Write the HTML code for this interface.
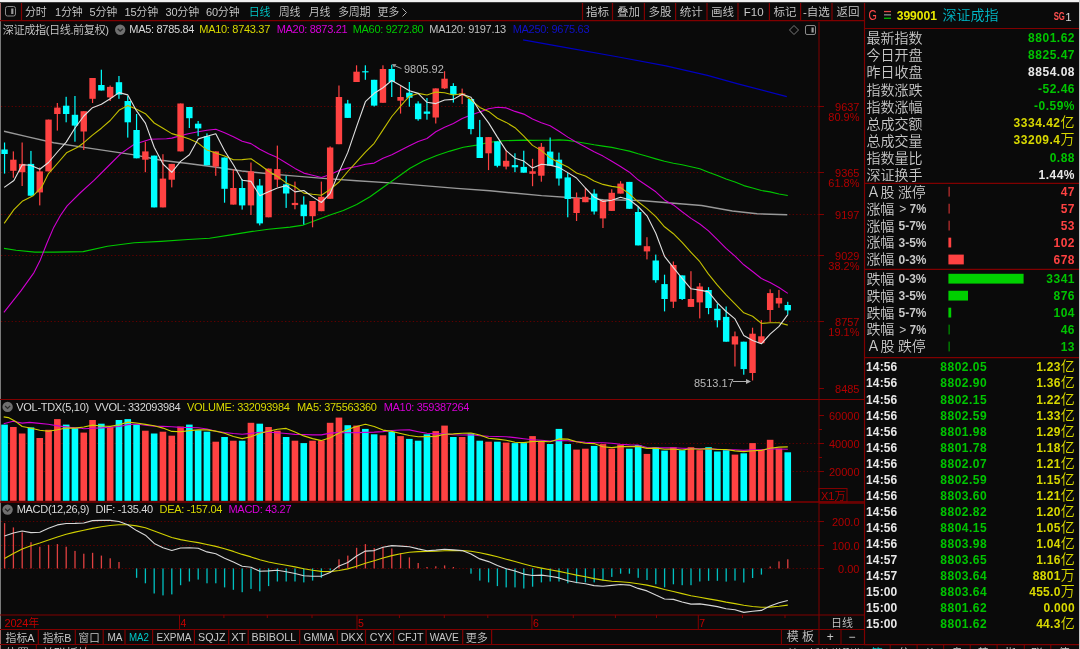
<!DOCTYPE html>
<html><head><meta charset="utf-8"><title>深证成指</title>
<style>
html,body{margin:0;padding:0;background:#0a0a0a;width:1080px;height:649px;overflow:hidden;}
body{position:relative;font-family:"Liberation Sans","Noto Sans CJK SC",sans-serif;}
</style></head><body>
<svg width="1080" height="649" viewBox="0 0 1080 649" style="position:absolute;left:0;top:0">
<rect x="0.00" y="0.00" width="1080.00" height="649.00" fill="#0a0a0a"/>
<rect x="0.00" y="0.00" width="1080.00" height="2.00" fill="#f0f0f0"/>
<rect x="0.00" y="2.00" width="1080.00" height="1.00" fill="#3c3c3c"/>
<rect x="0.00" y="3.00" width="1.00" height="646.00" fill="#7a7a7a"/>
<rect x="0.00" y="3.00" width="1.00" height="18.00" fill="#a06868"/>
<rect x="0.00" y="629.00" width="1.00" height="20.00" fill="#a06868"/>
<line x1="1" y1="106.5" x2="819" y2="106.5" stroke="#600000" stroke-width="1" stroke-dasharray="1.3,2.25"/>
<line x1="1" y1="172.5" x2="819" y2="172.5" stroke="#600000" stroke-width="1" stroke-dasharray="1.3,2.25"/>
<line x1="1" y1="214.5" x2="819" y2="214.5" stroke="#600000" stroke-width="1" stroke-dasharray="1.3,2.25"/>
<line x1="1" y1="255.5" x2="819" y2="255.5" stroke="#600000" stroke-width="1" stroke-dasharray="1.3,2.25"/>
<line x1="1" y1="321.5" x2="819" y2="321.5" stroke="#600000" stroke-width="1" stroke-dasharray="1.3,2.25"/>
<line x1="1" y1="443.5" x2="819" y2="443.5" stroke="#600000" stroke-width="1" stroke-dasharray="1.3,2.25"/>
<line x1="1" y1="471.5" x2="819" y2="471.5" stroke="#600000" stroke-width="1" stroke-dasharray="1.3,2.25"/>
<line x1="1" y1="521.5" x2="819" y2="521.5" stroke="#600000" stroke-width="1" stroke-dasharray="1.3,2.25"/>
<line x1="1" y1="545.5" x2="819" y2="545.5" stroke="#600000" stroke-width="1" stroke-dasharray="1.3,2.25"/>
<line x1="1" y1="568.5" x2="819" y2="568.5" stroke="#600000" stroke-width="1" stroke-dasharray="1.3,2.25"/>
<polyline points="4.0,131.3 26.9,136.6 53.7,142.8 80.6,146.9 107.4,150.9 134.3,154.9 161.1,160.3 188.0,163.5 214.8,167.0 241.7,171.0 268.5,173.7 290.0,175.6 323.3,178.4 356.7,180.7 390.0,182.9 423.3,185.6 456.7,188.4 490.0,190.7 510.8,192.8 541.6,195.6 572.4,197.7 603.3,199.6 640.0,200.5 670.8,203.0 701.6,205.5 732.4,211.0 757.1,213.8 787.3,214.7" fill="none" stroke="#989898" stroke-width="1.4" stroke-opacity="1.0" stroke-linejoin="round"/>
<polyline points="4.0,248.4 16.1,250.2 34.9,252.1 53.7,252.1 83.2,251.6 107.4,246.2 134.3,242.7 161.1,241.4 188.0,239.5 209.5,238.2 230.9,234.9 252.4,231.4 268.5,229.3 290.0,227.1 303.3,225.1 316.7,220.0 330.0,215.1 343.3,210.4 356.7,204.4 370.0,196.7 383.3,187.3 396.7,177.8 410.0,168.2 423.3,161.1 436.7,155.6 450.0,151.1 463.3,147.3 476.7,145.1 490.0,142.2 503.3,140.7 516.7,140.4 523.8,140.1 532.5,140.4 541.4,140.2 550.1,140.2 559.0,139.9 567.8,140.4 576.5,141.7 585.4,143.2 594.1,144.8 603.0,146.1 611.8,147.4 620.5,149.2 629.4,151.1 638.1,153.8 647.0,156.3 655.8,158.9 664.5,161.3 673.4,163.2 682.1,164.7 691.0,166.7 699.8,168.8 708.5,172.2 717.4,175.5 726.1,179.1 735.0,181.9 743.8,185.6 752.6,188.0 761.4,190.5 770.1,191.9 779.0,194.0 787.8,195.5" fill="none" stroke="#00c800" stroke-width="1.1" stroke-opacity="1.0" stroke-linejoin="round"/>
<polyline points="523.1,39.8 559.3,46.3 618.5,57.0 665.9,65.9 707.4,75.3 737.0,83.6 786.8,96.7" fill="none" stroke="#0000c0" stroke-width="1.25" stroke-opacity="1.0" stroke-linejoin="round"/>
<polyline points="3.9,312.4 20.9,290.9 34.0,272.6 40.3,259.9 47.0,243.0 53.7,227.4 60.4,215.5 67.1,205.9 80.6,192.5 94.0,180.4 107.4,167.0 120.8,153.6 134.3,144.2 150.4,139.3 166.5,138.8 171.8,138.1 180.6,135.6 189.4,133.5 198.2,131.8 207.0,130.2 215.8,129.2 224.6,132.7 233.4,136.7 242.2,141.3 251.0,143.6 259.8,149.2 268.6,153.7 277.4,157.6 286.2,163.0 295.0,168.4 303.8,173.1 312.6,175.2 321.4,177.5 330.2,174.5 339.0,170.4 347.8,168.1 356.6,166.5 365.4,164.2 374.2,163.1 383.0,158.3 391.8,154.8 400.6,150.2 409.4,145.7 418.2,141.4 427.0,138.5 435.8,131.8 444.6,127.3 453.4,123.5 462.2,118.5 471.0,114.9 479.8,111.9 488.6,108.8 497.4,107.2 506.2,107.9 515.0,111.4 523.8,114.1 532.5,119.1 541.4,122.8 550.1,125.8 559.0,131.3 567.8,137.1 576.5,142.2 585.4,147.1 594.1,151.8 603.0,156.1 611.8,161.3 620.5,166.5 629.4,172.2 638.1,179.8 647.0,185.7 655.8,191.8 664.5,199.9 673.4,204.9 682.1,211.8 691.0,218.4 699.8,224.0 708.5,230.9 717.4,239.6 726.1,248.4 735.0,256.2 743.8,264.8 752.6,271.5 761.4,278.5 770.1,282.6 779.0,287.5 787.8,293.4" fill="none" stroke="#d000d0" stroke-width="1.1" stroke-opacity="1.0" stroke-linejoin="round"/>
<rect x="3.95" y="142.50" width="1.20" height="31.10" fill="#00ffff"/>
<rect x="1.35" y="149.50" width="6.40" height="4.50" fill="#00ffff"/>
<rect x="12.75" y="151.40" width="1.20" height="26.30" fill="#ff4242"/>
<rect x="10.15" y="159.70" width="6.40" height="11.10" fill="#ff4242"/>
<rect x="21.55" y="142.50" width="1.20" height="43.50" fill="#ff4242"/>
<rect x="18.95" y="163.90" width="6.40" height="8.30" fill="#ff4242"/>
<rect x="30.35" y="150.90" width="1.20" height="44.80" fill="#00ffff"/>
<rect x="27.75" y="163.90" width="6.40" height="31.80" fill="#00ffff"/>
<rect x="39.15" y="167.50" width="1.20" height="37.90" fill="#ff4242"/>
<rect x="36.55" y="171.40" width="6.40" height="21.00" fill="#ff4242"/>
<rect x="47.95" y="119.60" width="1.20" height="51.80" fill="#ff4242"/>
<rect x="45.35" y="119.60" width="6.40" height="51.80" fill="#ff4242"/>
<rect x="56.75" y="103.00" width="1.20" height="27.60" fill="#ff4242"/>
<rect x="54.15" y="107.60" width="6.40" height="6.40" fill="#ff4242"/>
<rect x="65.55" y="96.80" width="1.20" height="25.50" fill="#00ffff"/>
<rect x="62.95" y="105.70" width="6.40" height="8.30" fill="#00ffff"/>
<rect x="74.35" y="96.00" width="1.20" height="45.70" fill="#00ffff"/>
<rect x="71.75" y="114.80" width="6.40" height="10.80" fill="#00ffff"/>
<rect x="83.15" y="111.20" width="1.20" height="38.80" fill="#ff4242"/>
<rect x="80.55" y="111.20" width="6.40" height="20.30" fill="#ff4242"/>
<rect x="91.95" y="78.00" width="1.20" height="25.00" fill="#ff4242"/>
<rect x="89.35" y="78.00" width="6.40" height="20.80" fill="#ff4242"/>
<rect x="100.75" y="69.70" width="1.20" height="20.80" fill="#00ffff"/>
<rect x="98.15" y="85.00" width="6.40" height="5.50" fill="#00ffff"/>
<rect x="109.55" y="85.50" width="1.20" height="15.50" fill="#ff4242"/>
<rect x="106.95" y="86.90" width="6.40" height="10.50" fill="#ff4242"/>
<rect x="118.35" y="76.00" width="1.20" height="22.80" fill="#00ffff"/>
<rect x="115.75" y="82.20" width="6.40" height="12.40" fill="#00ffff"/>
<rect x="127.15" y="96.00" width="1.20" height="41.60" fill="#00ffff"/>
<rect x="124.55" y="101.00" width="6.40" height="21.30" fill="#00ffff"/>
<rect x="135.95" y="114.00" width="1.20" height="44.30" fill="#00ffff"/>
<rect x="133.35" y="130.00" width="6.40" height="28.30" fill="#00ffff"/>
<rect x="144.75" y="141.70" width="1.20" height="30.50" fill="#ff4242"/>
<rect x="142.15" y="151.40" width="6.40" height="8.30" fill="#ff4242"/>
<rect x="153.55" y="155.60" width="1.20" height="51.80" fill="#00ffff"/>
<rect x="150.95" y="155.60" width="6.40" height="51.80" fill="#00ffff"/>
<rect x="162.35" y="154.20" width="1.20" height="53.20" fill="#ff4242"/>
<rect x="159.75" y="178.60" width="6.40" height="28.80" fill="#ff4242"/>
<rect x="171.15" y="163.90" width="1.20" height="23.50" fill="#ff4242"/>
<rect x="168.55" y="163.90" width="6.40" height="15.80" fill="#ff4242"/>
<rect x="179.95" y="103.50" width="1.20" height="47.90" fill="#ff4242"/>
<rect x="177.35" y="103.50" width="6.40" height="47.90" fill="#ff4242"/>
<rect x="188.75" y="107.00" width="1.20" height="21.00" fill="#00ffff"/>
<rect x="186.15" y="107.00" width="6.40" height="11.20" fill="#00ffff"/>
<rect x="197.55" y="121.00" width="1.20" height="15.20" fill="#00ffff"/>
<rect x="194.95" y="123.70" width="6.40" height="4.70" fill="#00ffff"/>
<rect x="206.35" y="133.40" width="1.20" height="31.90" fill="#00ffff"/>
<rect x="203.75" y="136.20" width="6.40" height="29.10" fill="#00ffff"/>
<rect x="215.15" y="151.40" width="1.20" height="24.40" fill="#ff4242"/>
<rect x="212.55" y="151.40" width="6.40" height="15.20" fill="#ff4242"/>
<rect x="223.95" y="157.50" width="1.20" height="45.20" fill="#00ffff"/>
<rect x="221.35" y="157.50" width="6.40" height="31.30" fill="#00ffff"/>
<rect x="232.75" y="169.40" width="1.20" height="35.20" fill="#ff4242"/>
<rect x="230.15" y="188.00" width="6.40" height="16.60" fill="#ff4242"/>
<rect x="241.55" y="179.00" width="1.20" height="30.60" fill="#00ffff"/>
<rect x="238.95" y="188.00" width="6.40" height="17.40" fill="#00ffff"/>
<rect x="250.35" y="162.50" width="1.20" height="52.50" fill="#ff4242"/>
<rect x="247.75" y="171.40" width="6.40" height="34.00" fill="#ff4242"/>
<rect x="259.15" y="179.00" width="1.20" height="46.40" fill="#00ffff"/>
<rect x="256.55" y="185.50" width="6.40" height="37.90" fill="#00ffff"/>
<rect x="267.95" y="168.60" width="1.20" height="48.70" fill="#ff4242"/>
<rect x="265.35" y="168.60" width="6.40" height="48.70" fill="#ff4242"/>
<rect x="276.75" y="145.60" width="1.20" height="41.40" fill="#ff4242"/>
<rect x="274.15" y="169.10" width="6.40" height="10.50" fill="#ff4242"/>
<rect x="285.55" y="176.00" width="1.20" height="31.90" fill="#00ffff"/>
<rect x="282.95" y="184.30" width="6.40" height="9.20" fill="#00ffff"/>
<rect x="294.35" y="181.60" width="1.20" height="27.70" fill="#ff4242"/>
<rect x="291.75" y="202.90" width="6.40" height="2.20" fill="#ff4242"/>
<rect x="303.15" y="196.30" width="1.20" height="28.20" fill="#00ffff"/>
<rect x="300.55" y="204.60" width="6.40" height="11.60" fill="#00ffff"/>
<rect x="311.95" y="201.00" width="1.20" height="26.30" fill="#ff4242"/>
<rect x="309.35" y="201.00" width="6.40" height="15.20" fill="#ff4242"/>
<rect x="320.75" y="181.60" width="1.20" height="29.60" fill="#ff4242"/>
<rect x="318.15" y="196.80" width="6.40" height="14.40" fill="#ff4242"/>
<rect x="329.55" y="146.40" width="1.20" height="52.40" fill="#ff4242"/>
<rect x="326.95" y="147.50" width="6.40" height="51.30" fill="#ff4242"/>
<rect x="338.35" y="85.50" width="1.20" height="58.70" fill="#ff4242"/>
<rect x="335.75" y="97.00" width="6.40" height="47.20" fill="#ff4242"/>
<rect x="347.15" y="99.90" width="1.20" height="18.00" fill="#00ffff"/>
<rect x="344.55" y="103.50" width="6.40" height="14.40" fill="#00ffff"/>
<rect x="355.95" y="65.30" width="1.20" height="16.70" fill="#ff4242"/>
<rect x="353.35" y="71.70" width="6.40" height="10.30" fill="#ff4242"/>
<rect x="364.75" y="65.30" width="1.20" height="14.50" fill="#00ffff"/>
<rect x="362.15" y="71.20" width="6.40" height="1.20" fill="#00ffff"/>
<rect x="373.55" y="79.80" width="1.20" height="26.70" fill="#00ffff"/>
<rect x="370.95" y="79.80" width="6.40" height="25.80" fill="#00ffff"/>
<rect x="382.35" y="65.30" width="1.20" height="37.50" fill="#ff4242"/>
<rect x="379.75" y="69.00" width="6.40" height="33.80" fill="#ff4242"/>
<rect x="391.15" y="64.70" width="1.20" height="32.30" fill="#00ffff"/>
<rect x="388.55" y="69.00" width="6.40" height="13.00" fill="#00ffff"/>
<rect x="399.95" y="86.20" width="1.20" height="27.40" fill="#ff4242"/>
<rect x="397.35" y="97.00" width="6.40" height="3.70" fill="#ff4242"/>
<rect x="408.75" y="82.00" width="1.20" height="24.70" fill="#00ffff"/>
<rect x="406.15" y="92.70" width="6.40" height="5.00" fill="#00ffff"/>
<rect x="417.55" y="101.30" width="1.20" height="19.40" fill="#00ffff"/>
<rect x="414.95" y="103.50" width="6.40" height="15.70" fill="#00ffff"/>
<rect x="426.35" y="98.00" width="1.20" height="21.70" fill="#00ffff"/>
<rect x="423.75" y="111.50" width="6.40" height="2.30" fill="#00ffff"/>
<rect x="435.15" y="88.40" width="1.20" height="35.10" fill="#ff4242"/>
<rect x="432.55" y="88.40" width="6.40" height="29.10" fill="#ff4242"/>
<rect x="443.95" y="71.20" width="1.20" height="17.80" fill="#ff4242"/>
<rect x="441.35" y="78.70" width="6.40" height="9.70" fill="#ff4242"/>
<rect x="452.75" y="83.20" width="1.20" height="19.40" fill="#00ffff"/>
<rect x="450.15" y="86.00" width="6.40" height="8.70" fill="#00ffff"/>
<rect x="461.55" y="88.60" width="1.20" height="15.50" fill="#ff4242"/>
<rect x="458.95" y="93.40" width="6.40" height="2.10" fill="#ff4242"/>
<rect x="470.35" y="99.00" width="1.20" height="35.30" fill="#00ffff"/>
<rect x="467.75" y="99.00" width="6.40" height="30.10" fill="#00ffff"/>
<rect x="479.15" y="119.90" width="1.20" height="38.10" fill="#00ffff"/>
<rect x="476.55" y="137.10" width="6.40" height="20.90" fill="#00ffff"/>
<rect x="487.95" y="137.10" width="1.20" height="33.00" fill="#ff4242"/>
<rect x="485.35" y="137.10" width="6.40" height="16.20" fill="#ff4242"/>
<rect x="496.75" y="141.40" width="1.20" height="25.90" fill="#00ffff"/>
<rect x="494.15" y="141.40" width="6.40" height="24.40" fill="#00ffff"/>
<rect x="505.55" y="150.00" width="1.20" height="19.40" fill="#ff4242"/>
<rect x="502.95" y="160.80" width="6.40" height="5.80" fill="#ff4242"/>
<rect x="514.35" y="153.30" width="1.20" height="18.90" fill="#00ffff"/>
<rect x="511.75" y="165.10" width="6.40" height="2.20" fill="#00ffff"/>
<rect x="523.15" y="150.70" width="1.20" height="22.00" fill="#00ffff"/>
<rect x="520.55" y="166.90" width="6.40" height="5.80" fill="#00ffff"/>
<rect x="531.95" y="158.80" width="1.20" height="27.40" fill="#ff4242"/>
<rect x="529.35" y="171.30" width="6.40" height="2.50" fill="#ff4242"/>
<rect x="540.75" y="143.00" width="1.20" height="38.70" fill="#ff4242"/>
<rect x="538.15" y="146.80" width="6.40" height="28.90" fill="#ff4242"/>
<rect x="549.55" y="137.50" width="1.20" height="28.10" fill="#00ffff"/>
<rect x="546.95" y="151.60" width="6.40" height="14.00" fill="#00ffff"/>
<rect x="558.35" y="152.60" width="1.20" height="33.00" fill="#00ffff"/>
<rect x="555.75" y="159.70" width="6.40" height="18.80" fill="#00ffff"/>
<rect x="567.15" y="173.10" width="1.20" height="44.20" fill="#00ffff"/>
<rect x="564.55" y="177.40" width="6.40" height="21.60" fill="#00ffff"/>
<rect x="575.95" y="192.50" width="1.20" height="28.50" fill="#ff4242"/>
<rect x="573.35" y="197.90" width="6.40" height="15.10" fill="#ff4242"/>
<rect x="584.75" y="188.20" width="1.20" height="14.00" fill="#ff4242"/>
<rect x="582.15" y="196.80" width="6.40" height="5.40" fill="#ff4242"/>
<rect x="593.55" y="189.30" width="1.20" height="25.20" fill="#00ffff"/>
<rect x="590.95" y="193.60" width="6.40" height="17.90" fill="#00ffff"/>
<rect x="602.35" y="200.00" width="1.20" height="28.00" fill="#ff4242"/>
<rect x="599.75" y="200.00" width="6.40" height="18.40" fill="#ff4242"/>
<rect x="611.15" y="189.30" width="1.20" height="21.60" fill="#ff4242"/>
<rect x="608.55" y="192.80" width="6.40" height="18.10" fill="#ff4242"/>
<rect x="619.95" y="181.20" width="1.20" height="12.40" fill="#ff4242"/>
<rect x="617.35" y="183.60" width="6.40" height="10.00" fill="#ff4242"/>
<rect x="628.75" y="181.90" width="1.20" height="26.90" fill="#00ffff"/>
<rect x="626.15" y="181.90" width="6.40" height="26.90" fill="#00ffff"/>
<rect x="637.55" y="206.60" width="1.20" height="38.80" fill="#00ffff"/>
<rect x="634.95" y="212.00" width="6.40" height="33.40" fill="#00ffff"/>
<rect x="646.35" y="237.20" width="1.20" height="22.20" fill="#ff4242"/>
<rect x="643.75" y="246.20" width="6.40" height="5.20" fill="#ff4242"/>
<rect x="655.15" y="254.60" width="1.20" height="28.10" fill="#00ffff"/>
<rect x="652.55" y="260.50" width="6.40" height="19.70" fill="#00ffff"/>
<rect x="663.95" y="274.70" width="1.20" height="36.70" fill="#00ffff"/>
<rect x="661.35" y="284.10" width="6.40" height="14.90" fill="#00ffff"/>
<rect x="672.75" y="261.50" width="1.20" height="46.50" fill="#ff4242"/>
<rect x="670.15" y="265.00" width="6.40" height="36.70" fill="#ff4242"/>
<rect x="681.55" y="275.40" width="1.20" height="24.60" fill="#00ffff"/>
<rect x="678.95" y="275.40" width="6.40" height="23.60" fill="#00ffff"/>
<rect x="690.35" y="271.20" width="1.20" height="35.70" fill="#ff4242"/>
<rect x="687.75" y="299.00" width="6.40" height="7.90" fill="#ff4242"/>
<rect x="699.15" y="283.00" width="1.20" height="35.40" fill="#ff4242"/>
<rect x="696.55" y="286.50" width="6.40" height="15.90" fill="#ff4242"/>
<rect x="707.95" y="287.20" width="1.20" height="27.00" fill="#00ffff"/>
<rect x="705.35" y="290.00" width="6.40" height="18.00" fill="#00ffff"/>
<rect x="716.75" y="303.80" width="1.20" height="23.60" fill="#00ffff"/>
<rect x="714.15" y="308.70" width="6.40" height="11.50" fill="#00ffff"/>
<rect x="725.55" y="306.50" width="1.20" height="35.20" fill="#00ffff"/>
<rect x="722.95" y="316.90" width="6.40" height="24.80" fill="#00ffff"/>
<rect x="734.35" y="331.50" width="1.20" height="35.00" fill="#ff4242"/>
<rect x="731.75" y="336.30" width="6.40" height="8.20" fill="#ff4242"/>
<rect x="743.15" y="341.70" width="1.20" height="33.00" fill="#00ffff"/>
<rect x="740.55" y="341.70" width="6.40" height="27.40" fill="#00ffff"/>
<rect x="751.95" y="327.70" width="1.20" height="52.80" fill="#ff4242"/>
<rect x="749.35" y="333.70" width="6.40" height="39.30" fill="#ff4242"/>
<rect x="760.75" y="320.10" width="1.20" height="23.10" fill="#ff4242"/>
<rect x="758.15" y="336.30" width="6.40" height="6.90" fill="#ff4242"/>
<rect x="769.55" y="289.30" width="1.20" height="33.00" fill="#ff4242"/>
<rect x="766.95" y="293.10" width="6.40" height="16.90" fill="#ff4242"/>
<rect x="778.35" y="289.90" width="1.20" height="17.90" fill="#ff4242"/>
<rect x="775.75" y="297.90" width="6.40" height="5.60" fill="#ff4242"/>
<rect x="787.15" y="301.80" width="1.20" height="12.90" fill="#00ffff"/>
<rect x="784.55" y="305.00" width="6.40" height="5.40" fill="#00ffff"/>
<polyline points="4.2,223.4 13.9,209.6 22.2,201.3 33.2,195.7 41.5,187.4 48.5,173.6 58.2,162.5 66.5,152.8 77.6,147.3 83.8,142.7 92.5,135.1 101.4,128.2 110.2,120.5 119.0,110.3 127.8,105.4 136.6,109.3 145.4,113.7 154.2,123.0 163.0,128.3 171.8,133.6 180.6,136.1 189.4,138.9 198.2,143.1 207.0,150.1 215.8,153.0 224.6,156.1 233.4,159.8 242.2,159.6 251.0,158.8 259.8,164.8 268.6,171.3 277.4,176.4 286.2,182.9 295.0,186.7 303.8,193.1 312.6,194.3 321.4,195.2 330.2,189.4 339.0,182.0 347.8,171.5 356.6,161.8 365.4,152.1 374.2,143.3 383.0,129.9 391.8,116.5 400.6,106.1 409.4,96.2 418.2,93.4 427.0,95.0 435.8,92.1 444.6,92.8 453.4,95.0 462.2,93.8 471.0,99.8 479.8,107.4 488.6,111.4 497.4,118.2 506.2,122.4 515.0,127.7 523.8,136.2 532.5,145.4 541.4,150.6 550.1,157.8 559.0,162.8 567.8,166.9 576.5,173.0 585.4,176.1 594.1,181.1 603.0,184.4 611.8,186.4 620.5,187.6 629.4,193.8 638.1,201.8 647.0,208.6 655.8,216.7 664.5,226.8 673.4,233.7 682.1,242.4 691.0,252.3 699.8,261.7 708.5,274.1 717.4,285.2 726.1,294.9 735.0,303.9 743.8,312.8 752.6,316.2 761.4,323.4 770.1,322.8 779.0,322.7 787.8,325.1" fill="none" stroke="#c4c000" stroke-width="1.1" stroke-opacity="1.0" stroke-linejoin="round"/>
<polyline points="4.2,187.4 13.9,180.5 22.2,164.7 30.5,165.3 39.8,169.3 48.5,162.5 57.4,152.0 66.2,142.1 75.0,128.0 83.8,116.0 92.5,107.7 101.4,104.3 110.2,98.8 119.0,92.6 127.8,94.9 136.6,110.9 145.4,123.1 154.2,147.2 163.0,164.0 171.8,172.3 180.6,161.4 189.4,154.7 198.2,138.9 207.0,136.3 215.8,133.8 224.6,150.8 233.4,164.8 242.2,180.2 251.0,181.4 259.8,195.8 268.6,191.8 277.4,188.0 286.2,185.6 295.0,191.9 303.8,190.5 312.6,196.9 321.4,202.5 330.2,193.3 339.0,172.1 347.8,152.4 356.6,126.6 365.4,101.7 374.2,93.3 383.0,87.7 391.8,80.5 400.6,85.6 409.4,90.7 418.2,93.4 427.0,102.3 435.8,103.6 444.6,100.0 453.4,99.4 462.2,94.2 471.0,97.3 479.8,111.2 488.6,122.9 497.4,137.1 506.2,150.6 515.0,158.2 523.8,161.1 532.5,168.0 541.4,164.2 550.1,165.1 559.0,167.4 567.8,172.6 576.5,178.0 585.4,188.0 594.1,197.1 603.0,201.4 611.8,200.2 620.5,197.3 629.4,199.7 638.1,206.5 647.0,215.8 655.8,233.2 664.5,256.3 673.4,267.6 682.1,278.3 691.0,288.8 699.8,290.1 708.5,291.9 717.4,302.9 726.1,311.5 735.0,318.9 743.8,335.5 752.6,340.6 761.4,343.8 770.1,334.1 779.0,326.4 787.8,314.7" fill="none" stroke="#e0e0e0" stroke-width="1.1" stroke-opacity="1.0" stroke-linejoin="round"/>
<text x="404" y="73.2" fill="#b8b8b8" font-size="11" font-family='"Liberation Sans", "Noto Sans CJK SC", sans-serif'>9805.92</text>
<polyline points="401.5,68.6 394.5,65.6" fill="none" stroke="#a0a0a0" stroke-width="1"/>
<polygon points="392,64 396.5,64.2 394,67.5" fill="#a0a0a0"/>
<text x="694" y="386.5" fill="#b8b8b8" font-size="11" font-family='"Liberation Sans", "Noto Sans CJK SC", sans-serif'>8513.17</text>
<line x1="733" y1="381.5" x2="749" y2="381.5" stroke="#b0b0b0" stroke-width="1"/>
<polygon points="751,381.5 746,379 746,384" fill="#b0b0b0"/>
<rect x="1.25" y="424.60" width="6.60" height="76.20" fill="#00ffff"/>
<rect x="10.05" y="427.00" width="6.60" height="73.80" fill="#ff4242"/>
<rect x="18.85" y="433.50" width="6.60" height="67.30" fill="#ff4242"/>
<rect x="27.65" y="427.40" width="6.60" height="73.40" fill="#00ffff"/>
<rect x="36.45" y="438.00" width="6.60" height="62.80" fill="#ff4242"/>
<rect x="45.25" y="429.80" width="6.60" height="71.00" fill="#ff4242"/>
<rect x="54.05" y="419.10" width="6.60" height="81.70" fill="#ff4242"/>
<rect x="62.85" y="424.60" width="6.60" height="76.20" fill="#00ffff"/>
<rect x="71.65" y="428.00" width="6.60" height="72.80" fill="#00ffff"/>
<rect x="80.45" y="432.60" width="6.60" height="68.20" fill="#ff4242"/>
<rect x="89.25" y="420.00" width="6.60" height="80.80" fill="#ff4242"/>
<rect x="98.05" y="423.70" width="6.60" height="77.10" fill="#00ffff"/>
<rect x="106.85" y="426.90" width="6.60" height="73.90" fill="#ff4242"/>
<rect x="115.65" y="420.00" width="6.60" height="80.80" fill="#00ffff"/>
<rect x="124.45" y="419.10" width="6.60" height="81.70" fill="#00ffff"/>
<rect x="133.25" y="424.30" width="6.60" height="76.50" fill="#00ffff"/>
<rect x="142.05" y="430.70" width="6.60" height="70.10" fill="#ff4242"/>
<rect x="150.85" y="433.50" width="6.60" height="67.30" fill="#00ffff"/>
<rect x="159.65" y="431.70" width="6.60" height="69.10" fill="#ff4242"/>
<rect x="168.45" y="435.70" width="6.60" height="65.10" fill="#ff4242"/>
<rect x="177.25" y="426.50" width="6.60" height="74.30" fill="#ff4242"/>
<rect x="186.05" y="424.60" width="6.60" height="76.20" fill="#00ffff"/>
<rect x="194.85" y="430.20" width="6.60" height="70.60" fill="#00ffff"/>
<rect x="203.65" y="431.70" width="6.60" height="69.10" fill="#00ffff"/>
<rect x="212.45" y="441.70" width="6.60" height="59.10" fill="#ff4242"/>
<rect x="221.25" y="437.00" width="6.60" height="63.80" fill="#00ffff"/>
<rect x="230.05" y="440.70" width="6.60" height="60.10" fill="#ff4242"/>
<rect x="238.85" y="440.70" width="6.60" height="60.10" fill="#00ffff"/>
<rect x="247.65" y="422.80" width="6.60" height="78.00" fill="#ff4242"/>
<rect x="256.45" y="423.70" width="6.60" height="77.10" fill="#00ffff"/>
<rect x="265.25" y="427.00" width="6.60" height="73.80" fill="#ff4242"/>
<rect x="274.05" y="430.70" width="6.60" height="70.10" fill="#ff4242"/>
<rect x="282.85" y="437.00" width="6.60" height="63.80" fill="#00ffff"/>
<rect x="291.65" y="440.70" width="6.60" height="60.10" fill="#ff4242"/>
<rect x="300.45" y="443.10" width="6.60" height="57.70" fill="#00ffff"/>
<rect x="309.25" y="440.70" width="6.60" height="60.10" fill="#ff4242"/>
<rect x="318.05" y="440.40" width="6.60" height="60.40" fill="#ff4242"/>
<rect x="326.85" y="422.80" width="6.60" height="78.00" fill="#ff4242"/>
<rect x="335.65" y="417.60" width="6.60" height="83.20" fill="#ff4242"/>
<rect x="344.45" y="425.20" width="6.60" height="75.60" fill="#00ffff"/>
<rect x="353.25" y="425.60" width="6.60" height="75.20" fill="#ff4242"/>
<rect x="362.05" y="428.90" width="6.60" height="71.90" fill="#00ffff"/>
<rect x="370.85" y="434.30" width="6.60" height="66.50" fill="#00ffff"/>
<rect x="379.65" y="435.30" width="6.60" height="65.50" fill="#ff4242"/>
<rect x="388.45" y="432.00" width="6.60" height="68.80" fill="#00ffff"/>
<rect x="397.25" y="436.10" width="6.60" height="64.70" fill="#ff4242"/>
<rect x="406.05" y="438.90" width="6.60" height="61.90" fill="#00ffff"/>
<rect x="414.85" y="440.70" width="6.60" height="60.10" fill="#00ffff"/>
<rect x="423.65" y="434.30" width="6.60" height="66.50" fill="#00ffff"/>
<rect x="432.45" y="431.10" width="6.60" height="69.70" fill="#ff4242"/>
<rect x="441.25" y="425.60" width="6.60" height="75.20" fill="#ff4242"/>
<rect x="450.05" y="437.00" width="6.60" height="63.80" fill="#00ffff"/>
<rect x="458.85" y="437.00" width="6.60" height="63.80" fill="#ff4242"/>
<rect x="467.65" y="433.50" width="6.60" height="67.30" fill="#00ffff"/>
<rect x="476.45" y="440.70" width="6.60" height="60.10" fill="#00ffff"/>
<rect x="485.25" y="441.70" width="6.60" height="59.10" fill="#ff4242"/>
<rect x="494.05" y="441.70" width="6.60" height="59.10" fill="#00ffff"/>
<rect x="502.85" y="442.60" width="6.60" height="58.20" fill="#ff4242"/>
<rect x="511.65" y="443.10" width="6.60" height="57.70" fill="#00ffff"/>
<rect x="520.45" y="443.10" width="6.60" height="57.70" fill="#00ffff"/>
<rect x="529.25" y="436.10" width="6.60" height="64.70" fill="#ff4242"/>
<rect x="538.05" y="441.30" width="6.60" height="59.50" fill="#ff4242"/>
<rect x="546.85" y="444.00" width="6.60" height="56.80" fill="#00ffff"/>
<rect x="555.65" y="428.90" width="6.60" height="71.90" fill="#00ffff"/>
<rect x="564.45" y="444.00" width="6.60" height="56.80" fill="#00ffff"/>
<rect x="573.25" y="449.60" width="6.60" height="51.20" fill="#ff4242"/>
<rect x="582.05" y="448.70" width="6.60" height="52.10" fill="#ff4242"/>
<rect x="590.85" y="445.90" width="6.60" height="54.90" fill="#00ffff"/>
<rect x="599.65" y="444.10" width="6.60" height="56.70" fill="#ff4242"/>
<rect x="608.45" y="448.70" width="6.60" height="52.10" fill="#ff4242"/>
<rect x="617.25" y="444.60" width="6.60" height="56.20" fill="#ff4242"/>
<rect x="626.05" y="448.70" width="6.60" height="52.10" fill="#00ffff"/>
<rect x="634.85" y="445.00" width="6.60" height="55.80" fill="#00ffff"/>
<rect x="643.65" y="453.90" width="6.60" height="46.90" fill="#ff4242"/>
<rect x="652.45" y="447.20" width="6.60" height="53.60" fill="#00ffff"/>
<rect x="661.25" y="450.60" width="6.60" height="50.20" fill="#00ffff"/>
<rect x="670.05" y="447.20" width="6.60" height="53.60" fill="#ff4242"/>
<rect x="678.85" y="450.20" width="6.60" height="50.60" fill="#00ffff"/>
<rect x="687.65" y="447.20" width="6.60" height="53.60" fill="#ff4242"/>
<rect x="696.45" y="450.20" width="6.60" height="50.60" fill="#ff4242"/>
<rect x="705.25" y="447.20" width="6.60" height="53.60" fill="#00ffff"/>
<rect x="714.05" y="451.50" width="6.60" height="49.30" fill="#00ffff"/>
<rect x="722.85" y="450.20" width="6.60" height="50.60" fill="#00ffff"/>
<rect x="731.65" y="454.60" width="6.60" height="46.20" fill="#ff4242"/>
<rect x="740.45" y="453.30" width="6.60" height="47.50" fill="#00ffff"/>
<rect x="749.25" y="443.10" width="6.60" height="57.70" fill="#ff4242"/>
<rect x="758.05" y="449.60" width="6.60" height="51.20" fill="#ff4242"/>
<rect x="766.85" y="439.80" width="6.60" height="61.00" fill="#ff4242"/>
<rect x="775.65" y="448.60" width="6.60" height="52.20" fill="#ff4242"/>
<rect x="784.45" y="452.30" width="6.60" height="48.50" fill="#00ffff"/>
<polyline points="3.7,423.7 13.0,421.3 22.2,423.1 29.6,422.4 37.0,423.1 48.1,424.3 59.3,426.1 70.4,427.4 81.5,428.3 83.8,428.7 92.5,428.2 101.4,427.9 110.2,427.2 119.0,426.5 127.8,424.6 136.6,424.0 145.4,425.2 154.2,426.1 163.0,426.4 171.8,426.8 180.6,427.4 189.4,427.5 198.2,427.8 207.0,429.0 215.8,431.3 224.6,432.5 233.4,433.5 242.2,434.2 251.0,433.4 259.8,432.2 268.6,432.2 277.4,432.8 286.2,433.5 295.0,434.4 303.8,434.5 312.6,434.9 321.4,434.9 330.2,433.1 339.0,432.6 347.8,432.7 356.6,432.6 365.4,432.4 374.2,432.1 383.0,431.6 391.8,430.5 400.6,430.0 409.4,429.9 418.2,431.7 427.0,433.3 435.8,433.9 444.6,433.9 453.4,434.7 462.2,435.0 471.0,434.8 479.8,435.7 488.6,436.2 497.4,436.5 506.2,436.7 515.0,437.6 523.8,438.8 532.5,439.8 541.4,440.3 550.1,441.0 559.0,440.5 567.8,440.8 576.5,441.6 585.4,442.3 594.1,442.7 603.0,442.8 611.8,443.3 620.5,444.2 629.4,444.9 638.1,445.0 647.0,447.5 655.8,447.8 664.5,447.9 673.4,447.8 682.1,448.2 691.0,448.5 699.8,448.7 708.5,448.9 717.4,449.2 726.1,449.7 735.0,449.8 743.8,450.4 752.6,449.7 761.4,449.9 770.1,448.9 779.0,449.0 787.8,449.2" fill="none" stroke="#d000d0" stroke-width="1.1" stroke-opacity="1.0" stroke-linejoin="round"/>
<polyline points="3.7,416.9 8.3,417.6 14.8,420.9 22.2,426.5 31.5,428.3 39.8,430.3 48.5,431.3 57.4,429.8 66.2,428.0 75.0,428.1 83.8,427.0 92.5,425.1 101.4,426.0 110.2,426.4 119.0,424.8 127.8,422.1 136.6,423.0 145.4,424.4 154.2,425.7 163.0,428.1 171.8,431.4 180.6,431.8 189.4,430.6 198.2,429.9 207.0,429.9 215.8,431.1 224.6,433.2 233.4,436.5 242.2,438.6 251.0,436.8 259.8,433.2 268.6,431.2 277.4,429.2 286.2,428.4 295.0,432.0 303.8,435.9 312.6,438.6 321.4,440.6 330.2,437.7 339.0,433.1 347.8,429.5 356.6,426.5 365.4,424.2 374.2,426.5 383.0,430.1 391.8,431.4 400.6,433.5 409.4,435.5 418.2,436.8 427.0,436.6 435.8,436.4 444.6,434.3 453.4,433.9 462.2,433.2 471.0,433.0 479.8,435.0 488.6,438.2 497.4,439.1 506.2,440.2 515.0,442.2 523.8,442.6 532.5,441.5 541.4,441.4 550.1,441.7 559.0,438.9 567.8,439.1 576.5,441.8 585.4,443.2 594.1,443.6 603.0,446.7 611.8,447.6 620.5,446.6 629.4,446.6 638.1,446.4 647.0,448.4 655.8,448.1 664.5,449.3 673.4,449.0 682.1,450.0 691.0,448.7 699.8,449.3 708.5,448.6 717.4,449.5 726.1,449.5 735.0,450.9 743.8,451.6 752.6,450.7 761.4,450.4 770.1,448.3 779.0,447.1 787.8,446.9" fill="none" stroke="#d0d000" stroke-width="1.1" stroke-opacity="1.0" stroke-linejoin="round"/>
<rect x="3.95" y="523.10" width="1.30" height="45.30" fill="#e04040"/>
<rect x="12.75" y="527.40" width="1.30" height="41.00" fill="#e04040"/>
<rect x="21.55" y="532.40" width="1.30" height="36.00" fill="#e04040"/>
<rect x="30.35" y="542.20" width="1.30" height="26.20" fill="#e04040"/>
<rect x="39.15" y="546.70" width="1.30" height="21.70" fill="#e04040"/>
<rect x="47.95" y="544.80" width="1.30" height="23.60" fill="#e04040"/>
<rect x="56.75" y="544.10" width="1.30" height="24.30" fill="#e04040"/>
<rect x="65.55" y="546.70" width="1.30" height="21.70" fill="#e04040"/>
<rect x="74.35" y="550.90" width="1.30" height="17.50" fill="#e04040"/>
<rect x="83.15" y="553.70" width="1.30" height="14.70" fill="#e04040"/>
<rect x="91.95" y="552.80" width="1.30" height="15.60" fill="#e04040"/>
<rect x="100.75" y="555.60" width="1.30" height="12.80" fill="#e04040"/>
<rect x="109.55" y="558.30" width="1.30" height="10.10" fill="#e04040"/>
<rect x="118.35" y="562.00" width="1.30" height="6.40" fill="#e04040"/>
<rect x="135.95" y="568.40" width="1.30" height="9.40" fill="#00c0c0"/>
<rect x="144.75" y="568.40" width="1.30" height="14.90" fill="#00c0c0"/>
<rect x="153.55" y="568.40" width="1.30" height="25.10" fill="#00c0c0"/>
<rect x="162.35" y="568.40" width="1.30" height="27.00" fill="#00c0c0"/>
<rect x="171.15" y="568.40" width="1.30" height="26.00" fill="#00c0c0"/>
<rect x="179.95" y="568.40" width="1.30" height="16.80" fill="#00c0c0"/>
<rect x="188.75" y="568.40" width="1.30" height="13.10" fill="#00c0c0"/>
<rect x="197.55" y="568.40" width="1.30" height="11.20" fill="#00c0c0"/>
<rect x="206.35" y="568.40" width="1.30" height="14.90" fill="#00c0c0"/>
<rect x="215.15" y="568.40" width="1.30" height="14.90" fill="#00c0c0"/>
<rect x="223.95" y="568.40" width="1.30" height="19.00" fill="#00c0c0"/>
<rect x="232.75" y="568.40" width="1.30" height="21.40" fill="#00c0c0"/>
<rect x="241.55" y="568.40" width="1.30" height="23.80" fill="#00c0c0"/>
<rect x="250.35" y="568.40" width="1.30" height="20.50" fill="#00c0c0"/>
<rect x="259.15" y="568.40" width="1.30" height="22.90" fill="#00c0c0"/>
<rect x="267.95" y="568.40" width="1.30" height="17.70" fill="#00c0c0"/>
<rect x="276.75" y="568.40" width="1.30" height="13.10" fill="#00c0c0"/>
<rect x="285.55" y="568.40" width="1.30" height="13.10" fill="#00c0c0"/>
<rect x="294.35" y="568.40" width="1.30" height="13.10" fill="#00c0c0"/>
<rect x="303.15" y="568.40" width="1.30" height="14.00" fill="#00c0c0"/>
<rect x="311.95" y="568.40" width="1.30" height="12.20" fill="#00c0c0"/>
<rect x="320.75" y="568.40" width="1.30" height="9.40" fill="#00c0c0"/>
<rect x="329.55" y="568.40" width="1.30" height="2.00" fill="#00c0c0"/>
<rect x="338.35" y="559.30" width="1.30" height="9.10" fill="#e04040"/>
<rect x="347.15" y="555.60" width="1.30" height="12.80" fill="#e04040"/>
<rect x="355.95" y="547.80" width="1.30" height="20.60" fill="#e04040"/>
<rect x="364.75" y="544.10" width="1.30" height="24.30" fill="#e04040"/>
<rect x="373.55" y="548.10" width="1.30" height="20.30" fill="#e04040"/>
<rect x="382.35" y="546.80" width="1.30" height="21.60" fill="#e04040"/>
<rect x="391.15" y="548.50" width="1.30" height="19.90" fill="#e04040"/>
<rect x="399.95" y="553.30" width="1.30" height="15.10" fill="#e04040"/>
<rect x="408.75" y="557.40" width="1.30" height="11.00" fill="#e04040"/>
<rect x="417.55" y="563.00" width="1.30" height="5.40" fill="#e04040"/>
<rect x="426.35" y="567.00" width="1.30" height="1.40" fill="#e04040"/>
<rect x="435.15" y="566.30" width="1.30" height="2.10" fill="#e04040"/>
<rect x="443.95" y="565.40" width="1.30" height="3.00" fill="#e04040"/>
<rect x="452.75" y="567.00" width="1.30" height="1.40" fill="#e04040"/>
<rect x="470.35" y="568.40" width="1.30" height="5.30" fill="#00c0c0"/>
<rect x="479.15" y="568.40" width="1.30" height="12.20" fill="#00c0c0"/>
<rect x="487.95" y="568.40" width="1.30" height="14.00" fill="#00c0c0"/>
<rect x="496.75" y="568.40" width="1.30" height="17.70" fill="#00c0c0"/>
<rect x="505.55" y="568.40" width="1.30" height="19.00" fill="#00c0c0"/>
<rect x="514.35" y="568.40" width="1.30" height="19.00" fill="#00c0c0"/>
<rect x="523.15" y="568.40" width="1.30" height="20.10" fill="#00c0c0"/>
<rect x="531.95" y="568.40" width="1.30" height="18.30" fill="#00c0c0"/>
<rect x="540.75" y="568.40" width="1.30" height="14.00" fill="#00c0c0"/>
<rect x="549.55" y="568.40" width="1.30" height="13.10" fill="#00c0c0"/>
<rect x="558.35" y="568.40" width="1.30" height="13.10" fill="#00c0c0"/>
<rect x="567.15" y="568.40" width="1.30" height="14.90" fill="#00c0c0"/>
<rect x="575.95" y="568.40" width="1.30" height="14.90" fill="#00c0c0"/>
<rect x="584.75" y="568.40" width="1.30" height="14.00" fill="#00c0c0"/>
<rect x="593.55" y="568.40" width="1.30" height="14.00" fill="#00c0c0"/>
<rect x="602.35" y="568.40" width="1.30" height="12.20" fill="#00c0c0"/>
<rect x="611.15" y="568.40" width="1.30" height="8.50" fill="#00c0c0"/>
<rect x="619.95" y="568.40" width="1.30" height="5.30" fill="#00c0c0"/>
<rect x="628.75" y="568.40" width="1.30" height="5.30" fill="#00c0c0"/>
<rect x="637.55" y="568.40" width="1.30" height="9.40" fill="#00c0c0"/>
<rect x="646.35" y="568.40" width="1.30" height="11.60" fill="#00c0c0"/>
<rect x="655.15" y="568.40" width="1.30" height="15.90" fill="#00c0c0"/>
<rect x="663.95" y="568.40" width="1.30" height="19.00" fill="#00c0c0"/>
<rect x="672.75" y="568.40" width="1.30" height="15.90" fill="#00c0c0"/>
<rect x="681.55" y="568.40" width="1.30" height="16.80" fill="#00c0c0"/>
<rect x="690.35" y="568.40" width="1.30" height="16.80" fill="#00c0c0"/>
<rect x="699.15" y="568.40" width="1.30" height="13.10" fill="#00c0c0"/>
<rect x="707.95" y="568.40" width="1.30" height="12.40" fill="#00c0c0"/>
<rect x="716.75" y="568.40" width="1.30" height="12.40" fill="#00c0c0"/>
<rect x="725.55" y="568.40" width="1.30" height="13.20" fill="#00c0c0"/>
<rect x="734.35" y="568.40" width="1.30" height="12.20" fill="#00c0c0"/>
<rect x="743.15" y="568.40" width="1.30" height="14.10" fill="#00c0c0"/>
<rect x="751.95" y="568.40" width="1.30" height="9.60" fill="#00c0c0"/>
<rect x="760.75" y="568.40" width="1.30" height="6.20" fill="#00c0c0"/>
<rect x="769.55" y="566.50" width="1.30" height="1.90" fill="#e04040"/>
<rect x="778.35" y="561.40" width="1.30" height="7.00" fill="#e04040"/>
<rect x="787.15" y="559.30" width="1.30" height="9.10" fill="#e04040"/>
<polyline points="4.5,558.6 13.4,553.5 22.2,549.0 31.0,545.7 39.8,543.0 48.5,540.1 57.4,537.0 66.2,534.3 75.0,532.1 83.8,530.3 92.5,528.4 101.4,526.8 110.2,525.5 119.0,524.7 127.8,524.7 136.6,525.9 145.4,527.7 154.2,530.9 163.0,534.2 171.8,537.5 180.6,539.6 189.4,541.2 198.2,542.6 207.0,544.5 215.8,546.4 224.6,548.7 233.4,551.4 242.2,554.4 251.0,556.9 259.8,559.8 268.6,562.0 277.4,563.7 286.2,565.3 295.0,566.9 303.8,568.7 312.6,570.2 321.4,571.4 330.2,571.6 339.0,570.5 347.8,568.9 356.6,566.3 365.4,563.3 374.2,560.7 383.0,558.0 391.8,555.6 400.6,553.7 409.4,552.3 418.2,551.6 427.0,551.4 435.8,551.2 444.6,550.8 453.4,550.6 462.2,550.6 471.0,551.3 479.8,552.8 488.6,554.6 497.4,556.8 506.2,559.2 515.0,561.5 523.8,564.0 532.5,566.3 541.4,568.1 550.1,569.7 559.0,571.4 567.8,573.2 576.5,575.1 585.4,576.8 594.1,578.6 603.0,580.1 611.8,581.2 620.5,581.8 629.4,582.5 638.1,583.7 647.0,585.1 655.8,587.1 664.5,589.5 673.4,591.5 682.1,593.6 691.0,595.7 699.8,597.3 708.5,598.9 717.4,600.4 726.1,602.1 735.0,603.6 743.8,605.3 752.6,606.5 761.4,607.3 770.1,607.1 779.0,606.2 787.8,605.1" fill="none" stroke="#d0d000" stroke-width="1.1" stroke-opacity="1.0" stroke-linejoin="round"/>
<polyline points="4.5,536.0 13.4,533.0 22.2,531.0 31.0,532.6 39.8,532.2 48.5,528.3 57.4,524.9 66.2,523.5 75.0,523.4 83.8,523.0 92.5,520.6 101.4,520.4 110.2,520.4 119.0,521.5 127.8,524.7 136.6,530.6 145.4,535.2 154.2,543.4 163.0,547.7 171.8,550.5 180.6,548.0 189.4,547.8 198.2,548.2 207.0,551.9 215.8,553.8 224.6,558.2 233.4,562.1 242.2,566.3 251.0,567.2 259.8,571.3 268.6,570.9 277.4,570.2 286.2,571.8 295.0,573.5 303.8,575.7 312.6,576.3 321.4,576.1 330.2,572.6 339.0,565.9 347.8,562.5 356.6,556.0 365.4,551.1 374.2,550.6 383.0,547.2 391.8,545.6 400.6,546.1 409.4,546.8 418.2,548.9 427.0,550.7 435.8,550.1 444.6,549.3 453.4,549.9 462.2,550.6 471.0,553.9 479.8,558.9 488.6,561.6 497.4,565.6 506.2,568.7 515.0,571.0 523.8,574.1 532.5,575.5 541.4,575.1 550.1,576.3 559.0,577.9 567.8,580.7 576.5,582.5 585.4,583.8 594.1,585.6 603.0,586.2 611.8,585.4 620.5,584.5 629.4,585.1 638.1,588.4 647.0,590.9 655.8,595.1 664.5,599.0 673.4,599.4 682.1,602.0 691.0,604.1 699.8,603.9 708.5,605.1 717.4,606.6 726.1,608.7 735.0,609.7 743.8,612.4 752.6,611.3 761.4,610.4 770.1,606.1 779.0,602.7 787.8,600.5" fill="none" stroke="#d8d8d8" stroke-width="1.1" stroke-opacity="1.0" stroke-linejoin="round"/>
<line x1="0" y1="20.6" x2="864" y2="20.6" stroke="#800000" stroke-width="1.3"/>
<line x1="819" y1="22" x2="819" y2="615" stroke="#800000" stroke-width="1"/>
<line x1="0" y1="399.5" x2="864" y2="399.5" stroke="#800000" stroke-width="1.2"/>
<line x1="0" y1="502" x2="864" y2="502" stroke="#800000" stroke-width="1.5"/>
<line x1="819" y1="503.2" x2="864" y2="503.2" stroke="#800000" stroke-width="1"/>
<line x1="0" y1="615" x2="864" y2="615" stroke="#800000" stroke-width="1.2"/>
<line x1="0" y1="629.5" x2="864" y2="629.5" stroke="#800000" stroke-width="1.2"/>
<line x1="0" y1="644.5" x2="864" y2="644.5" stroke="#800000" stroke-width="1.2"/>
<line x1="864.5" y1="3" x2="864.5" y2="645" stroke="#800000" stroke-width="1.2"/>
<line x1="819" y1="106.5" x2="824" y2="106.5" stroke="#800000" stroke-width="1"/>
<text x="859.5" y="110.5" fill="#b00000" font-size="11" text-anchor="end" font-family='"Liberation Sans", "Noto Sans CJK SC", sans-serif'>9637</text>
<text x="859.5" y="120.5" fill="#b00000" font-size="11" text-anchor="end" font-family='"Liberation Sans", "Noto Sans CJK SC", sans-serif'>80.9%</text>
<line x1="819" y1="172.5" x2="824" y2="172.5" stroke="#800000" stroke-width="1"/>
<text x="859.5" y="176.5" fill="#b00000" font-size="11" text-anchor="end" font-family='"Liberation Sans", "Noto Sans CJK SC", sans-serif'>9365</text>
<text x="859.5" y="186.5" fill="#b00000" font-size="11" text-anchor="end" font-family='"Liberation Sans", "Noto Sans CJK SC", sans-serif'>61.8%</text>
<line x1="819" y1="214.5" x2="824" y2="214.5" stroke="#800000" stroke-width="1"/>
<text x="859.5" y="218.5" fill="#b00000" font-size="11" text-anchor="end" font-family='"Liberation Sans", "Noto Sans CJK SC", sans-serif'>9197</text>
<line x1="819" y1="255.5" x2="824" y2="255.5" stroke="#800000" stroke-width="1"/>
<text x="859.5" y="259.5" fill="#b00000" font-size="11" text-anchor="end" font-family='"Liberation Sans", "Noto Sans CJK SC", sans-serif'>9029</text>
<text x="859.5" y="269.5" fill="#b00000" font-size="11" text-anchor="end" font-family='"Liberation Sans", "Noto Sans CJK SC", sans-serif'>38.2%</text>
<line x1="819" y1="321.5" x2="824" y2="321.5" stroke="#800000" stroke-width="1"/>
<text x="859.5" y="325.5" fill="#b00000" font-size="11" text-anchor="end" font-family='"Liberation Sans", "Noto Sans CJK SC", sans-serif'>8757</text>
<text x="859.5" y="335.5" fill="#b00000" font-size="11" text-anchor="end" font-family='"Liberation Sans", "Noto Sans CJK SC", sans-serif'>19.1%</text>
<line x1="819" y1="388.5" x2="824" y2="388.5" stroke="#800000" stroke-width="1"/>
<text x="859.5" y="392.5" fill="#b00000" font-size="11" text-anchor="end" font-family='"Liberation Sans", "Noto Sans CJK SC", sans-serif'>8485</text>
<line x1="819" y1="415.5" x2="824" y2="415.5" stroke="#800000" stroke-width="1"/>
<text x="859.5" y="419.5" fill="#b00000" font-size="11" text-anchor="end" font-family='"Liberation Sans", "Noto Sans CJK SC", sans-serif'>60000</text>
<line x1="819" y1="443.5" x2="824" y2="443.5" stroke="#800000" stroke-width="1"/>
<text x="859.5" y="447.5" fill="#b00000" font-size="11" text-anchor="end" font-family='"Liberation Sans", "Noto Sans CJK SC", sans-serif'>40000</text>
<line x1="819" y1="471.5" x2="824" y2="471.5" stroke="#800000" stroke-width="1"/>
<text x="859.5" y="475.5" fill="#b00000" font-size="11" text-anchor="end" font-family='"Liberation Sans", "Noto Sans CJK SC", sans-serif'>20000</text>
<line x1="819" y1="429.5" x2="822" y2="429.5" stroke="#800000" stroke-width="1"/>
<line x1="819" y1="457.5" x2="822" y2="457.5" stroke="#800000" stroke-width="1"/>
<rect x="819" y="488.5" width="28" height="13.5" fill="none" stroke="#800000" stroke-width="1"/>
<text x="821" y="500" fill="#b00000" font-size="11" font-weight="350" font-family='"Liberation Sans", "Noto Sans CJK SC", sans-serif '>X1万</text>
<line x1="819" y1="521.5" x2="824" y2="521.5" stroke="#800000" stroke-width="1"/>
<text x="859.5" y="525.5" fill="#b00000" font-size="11" text-anchor="end" font-family='"Liberation Sans", "Noto Sans CJK SC", sans-serif'>200.0</text>
<line x1="819" y1="545.5" x2="824" y2="545.5" stroke="#800000" stroke-width="1"/>
<text x="859.5" y="549.5" fill="#b00000" font-size="11" text-anchor="end" font-family='"Liberation Sans", "Noto Sans CJK SC", sans-serif'>100.0</text>
<line x1="819" y1="568.5" x2="824" y2="568.5" stroke="#800000" stroke-width="1"/>
<text x="859.5" y="572.5" fill="#b00000" font-size="11" text-anchor="end" font-family='"Liberation Sans", "Noto Sans CJK SC", sans-serif'>0.00</text>
<line x1="223.9" y1="615" x2="223.9" y2="618" stroke="#800000" stroke-width="1"/>
<line x1="267.3" y1="615" x2="267.3" y2="618" stroke="#800000" stroke-width="1"/>
<line x1="312.0" y1="615" x2="312.0" y2="618" stroke="#800000" stroke-width="1"/>
<line x1="399.4" y1="615" x2="399.4" y2="618" stroke="#800000" stroke-width="1"/>
<line x1="444.3" y1="615" x2="444.3" y2="618" stroke="#800000" stroke-width="1"/>
<line x1="487.8" y1="615" x2="487.8" y2="618" stroke="#800000" stroke-width="1"/>
<line x1="573.3" y1="615" x2="573.3" y2="618" stroke="#800000" stroke-width="1"/>
<line x1="615.4" y1="615" x2="615.4" y2="618" stroke="#800000" stroke-width="1"/>
<line x1="656.5" y1="615" x2="656.5" y2="618" stroke="#800000" stroke-width="1"/>
<line x1="742.5" y1="615" x2="742.5" y2="618" stroke="#800000" stroke-width="1"/>
<line x1="785.0" y1="615" x2="785.0" y2="618" stroke="#800000" stroke-width="1"/>
<line x1="179.5" y1="615" x2="179.5" y2="629" stroke="#800000" stroke-width="1"/>
<text x="180.5" y="626.5" fill="#c80000" font-size="10.5" font-family='"Liberation Sans", "Noto Sans CJK SC", sans-serif'>4</text>
<line x1="357.0" y1="615" x2="357.0" y2="629" stroke="#800000" stroke-width="1"/>
<text x="358.0" y="626.5" fill="#c80000" font-size="10.5" font-family='"Liberation Sans", "Noto Sans CJK SC", sans-serif'>5</text>
<line x1="531.9" y1="615" x2="531.9" y2="629" stroke="#800000" stroke-width="1"/>
<text x="532.9" y="626.5" fill="#c80000" font-size="10.5" font-family='"Liberation Sans", "Noto Sans CJK SC", sans-serif'>6</text>
<line x1="698.3" y1="615" x2="698.3" y2="629" stroke="#800000" stroke-width="1"/>
<text x="699.3" y="626.5" fill="#c80000" font-size="10.5" font-family='"Liberation Sans", "Noto Sans CJK SC", sans-serif'>7</text>
<text x="4.5" y="627" fill="#c80000" font-size="11" font-weight="350" letter-spacing="-0.2" font-family='"Liberation Sans", "Noto Sans CJK SC", sans-serif '>2024年</text>
<line x1="819" y1="615" x2="819" y2="645" stroke="#800000" stroke-width="1"/>
<text x="842" y="626.5" fill="#c8c8c8" font-size="11" text-anchor="middle" font-weight="350" font-family='"Liberation Sans", "Noto Sans CJK SC", sans-serif '>日线</text>
<rect x="5.5" y="6.5" width="10" height="9.5" rx="2" ry="2" fill="none" stroke="#8a8a8a" stroke-width="1"/>
<rect x="11.20" y="8.50" width="2.20" height="5.50" fill="#9a9a9a"/>
<line x1="21.5" y1="3" x2="21.5" y2="21" stroke="#800000" stroke-width="1.2"/>
<text x="25" y="15.8" fill="#c8c8c8" font-size="11" font-weight="350" letter-spacing="-0.2" font-family='"Liberation Sans", "Noto Sans CJK SC", sans-serif '>分时</text>
<text x="55" y="15.8" fill="#c8c8c8" font-size="11" font-weight="350" letter-spacing="-0.2" font-family='"Liberation Sans", "Noto Sans CJK SC", sans-serif '>1分钟</text>
<text x="89.5" y="15.8" fill="#c8c8c8" font-size="11" font-weight="350" letter-spacing="-0.2" font-family='"Liberation Sans", "Noto Sans CJK SC", sans-serif '>5分钟</text>
<text x="124.5" y="15.8" fill="#c8c8c8" font-size="11" font-weight="350" letter-spacing="-0.2" font-family='"Liberation Sans", "Noto Sans CJK SC", sans-serif '>15分钟</text>
<text x="165.5" y="15.8" fill="#c8c8c8" font-size="11" font-weight="350" letter-spacing="-0.2" font-family='"Liberation Sans", "Noto Sans CJK SC", sans-serif '>30分钟</text>
<text x="206" y="15.8" fill="#c8c8c8" font-size="11" font-weight="350" letter-spacing="-0.2" font-family='"Liberation Sans", "Noto Sans CJK SC", sans-serif '>60分钟</text>
<text x="248.8" y="15.8" fill="#00c8c8" font-size="11" font-weight="350" letter-spacing="-0.2" font-family='"Liberation Sans", "Noto Sans CJK SC", sans-serif '>日线</text>
<text x="278.8" y="15.8" fill="#c8c8c8" font-size="11" font-weight="350" letter-spacing="-0.2" font-family='"Liberation Sans", "Noto Sans CJK SC", sans-serif '>周线</text>
<text x="308.8" y="15.8" fill="#c8c8c8" font-size="11" font-weight="350" letter-spacing="-0.2" font-family='"Liberation Sans", "Noto Sans CJK SC", sans-serif '>月线</text>
<text x="338" y="15.8" fill="#c8c8c8" font-size="11" font-weight="350" letter-spacing="-0.2" font-family='"Liberation Sans", "Noto Sans CJK SC", sans-serif '>多周期</text>
<text x="377.5" y="15.8" fill="#c8c8c8" font-size="11" font-weight="350" letter-spacing="-0.2" font-family='"Liberation Sans", "Noto Sans CJK SC", sans-serif '>更多</text>
<polyline points="402.5,8.5 406.5,12.5 402.5,16.5" fill="none" stroke="#b0b0b0" stroke-width="1"/>
<line x1="582.5" y1="3" x2="582.5" y2="21" stroke="#800000" stroke-width="1.2"/>
<text x="597.5" y="16.0" fill="#c8c8c8" font-size="11.5" text-anchor="middle" font-weight="350" font-family='"Liberation Sans", "Noto Sans CJK SC", sans-serif '>指标</text>
<line x1="612.5" y1="3" x2="612.5" y2="21" stroke="#800000" stroke-width="1.2"/>
<text x="628.45" y="16.0" fill="#c8c8c8" font-size="11.5" text-anchor="middle" font-weight="350" font-family='"Liberation Sans", "Noto Sans CJK SC", sans-serif '>叠加</text>
<line x1="644.4" y1="3" x2="644.4" y2="21" stroke="#800000" stroke-width="1.2"/>
<text x="660.0" y="16.0" fill="#c8c8c8" font-size="11.5" text-anchor="middle" font-weight="350" font-family='"Liberation Sans", "Noto Sans CJK SC", sans-serif '>多股</text>
<line x1="675.6" y1="3" x2="675.6" y2="21" stroke="#800000" stroke-width="1.2"/>
<text x="691.3" y="16.0" fill="#c8c8c8" font-size="11.5" text-anchor="middle" font-weight="350" font-family='"Liberation Sans", "Noto Sans CJK SC", sans-serif '>统计</text>
<line x1="707" y1="3" x2="707" y2="21" stroke="#800000" stroke-width="1.2"/>
<text x="722.5" y="16.0" fill="#c8c8c8" font-size="11.5" text-anchor="middle" font-weight="350" font-family='"Liberation Sans", "Noto Sans CJK SC", sans-serif '>画线</text>
<line x1="738" y1="3" x2="738" y2="21" stroke="#800000" stroke-width="1.2"/>
<text x="753.7" y="16.0" fill="#c8c8c8" font-size="11.5" text-anchor="middle" font-weight="350" font-family='"Liberation Sans", "Noto Sans CJK SC", sans-serif '>F10</text>
<line x1="769.4" y1="3" x2="769.4" y2="21" stroke="#800000" stroke-width="1.2"/>
<text x="785.0" y="16.0" fill="#c8c8c8" font-size="11.5" text-anchor="middle" font-weight="350" font-family='"Liberation Sans", "Noto Sans CJK SC", sans-serif '>标记</text>
<line x1="800.6" y1="3" x2="800.6" y2="21" stroke="#800000" stroke-width="1.2"/>
<text x="816.3" y="16.0" fill="#c8c8c8" font-size="11.5" text-anchor="middle" font-weight="350" font-family='"Liberation Sans", "Noto Sans CJK SC", sans-serif '>-自选</text>
<line x1="832" y1="3" x2="832" y2="21" stroke="#800000" stroke-width="1.2"/>
<text x="848.0" y="16.0" fill="#c8c8c8" font-size="11.5" text-anchor="middle" font-weight="350" font-family='"Liberation Sans", "Noto Sans CJK SC", sans-serif '>返回</text>
<text x="2.7" y="33.6" fill="#c8c8c8" font-size="11.2" font-weight="350" letter-spacing="-0.45" font-family='"Liberation Sans", "Noto Sans CJK SC", sans-serif '>深证成指(日线.前复权)</text>
<circle cx="120.2" cy="29.7" r="5.2" fill="#707070"/>
<polyline points="117.7,28.8 120.2,31.2 122.8,28.7" fill="none" stroke="#2a2a2a" stroke-width="1.3"/>
<text x="129.3" y="33.2" fill="#d8d8d8" font-size="11" letter-spacing="-0.3" font-family='"Liberation Sans", "Noto Sans CJK SC", sans-serif'>MA5: 8785.84</text>
<text x="199.3" y="33.2" fill="#d8d800" font-size="11" letter-spacing="-0.3" font-family='"Liberation Sans", "Noto Sans CJK SC", sans-serif'>MA10: 8743.37</text>
<text x="276.7" y="33.2" fill="#d800d8" font-size="11" letter-spacing="-0.3" font-family='"Liberation Sans", "Noto Sans CJK SC", sans-serif'>MA20: 8873.21</text>
<text x="352.7" y="33.2" fill="#00c800" font-size="11" letter-spacing="-0.3" font-family='"Liberation Sans", "Noto Sans CJK SC", sans-serif'>MA60: 9272.80</text>
<text x="429.3" y="33.2" fill="#c0c0c0" font-size="11" letter-spacing="-0.3" font-family='"Liberation Sans", "Noto Sans CJK SC", sans-serif'>MA120: 9197.13</text>
<text x="512.7" y="33.2" fill="#1010c8" font-size="11" letter-spacing="-0.3" font-family='"Liberation Sans", "Noto Sans CJK SC", sans-serif'>MA250: 9675.63</text>
<polygon points="794,25.5 798.5,30 794,34.5 789.5,30" fill="none" stroke="#7a7a7a" stroke-width="1"/>
<rect x="805.5" y="25.5" width="10" height="9" rx="1.5" fill="none" stroke="#8a8a8a" stroke-width="1"/>
<rect x="811.50" y="27.50" width="2.20" height="5.00" fill="#9a9a9a"/>
<circle cx="7.6" cy="406.9" r="5.2" fill="#707070"/>
<polyline points="5.1,406.0 7.6,408.4 10.2,405.9" fill="none" stroke="#2a2a2a" stroke-width="1.3"/>
<text x="16.3" y="410.8" fill="#d8d8d8" font-size="11" letter-spacing="-0.3" font-family='"Liberation Sans", "Noto Sans CJK SC", sans-serif'>VOL-TDX(5,10)</text>
<text x="94.4" y="410.8" fill="#d8d8d8" font-size="11" letter-spacing="-0.3" font-family='"Liberation Sans", "Noto Sans CJK SC", sans-serif'>VVOL: 332093984</text>
<text x="187" y="410.8" fill="#d8d800" font-size="11" letter-spacing="-0.3" font-family='"Liberation Sans", "Noto Sans CJK SC", sans-serif'>VOLUME: 332093984</text>
<text x="297" y="410.8" fill="#d8d800" font-size="11" letter-spacing="-0.3" font-family='"Liberation Sans", "Noto Sans CJK SC", sans-serif'>MA5: 375563360</text>
<text x="383.7" y="410.8" fill="#d800d8" font-size="11" letter-spacing="-0.3" font-family='"Liberation Sans", "Noto Sans CJK SC", sans-serif'>MA10: 359387264</text>
<circle cx="7.6" cy="509.6" r="5.2" fill="#707070"/>
<polyline points="5.1,508.7 7.6,511.1 10.2,508.6" fill="none" stroke="#2a2a2a" stroke-width="1.3"/>
<text x="16.7" y="513.4" fill="#d8d8d8" font-size="11" letter-spacing="-0.3" font-family='"Liberation Sans", "Noto Sans CJK SC", sans-serif'>MACD(12,26,9)</text>
<text x="95.4" y="513.4" fill="#d8d8d8" font-size="11" letter-spacing="-0.3" font-family='"Liberation Sans", "Noto Sans CJK SC", sans-serif'>DIF: -135.40</text>
<text x="159.6" y="513.4" fill="#d8d800" font-size="11" letter-spacing="-0.3" font-family='"Liberation Sans", "Noto Sans CJK SC", sans-serif'>DEA: -157.04</text>
<text x="228.5" y="513.4" fill="#d800d8" font-size="11" letter-spacing="-0.3" font-family='"Liberation Sans", "Noto Sans CJK SC", sans-serif'>MACD: 43.27</text>
<line x1="38.3" y1="629.5" x2="38.3" y2="644.5" stroke="#800000" stroke-width="1.2"/>
<text x="5.5" y="641.6" fill="#c8c8c8" font-size="11" font-weight="350" font-family='"Liberation Sans", "Noto Sans CJK SC", sans-serif ' textLength="29.1" lengthAdjust="spacingAndGlyphs">指标A</text>
<line x1="75.3" y1="629.5" x2="75.3" y2="644.5" stroke="#800000" stroke-width="1.2"/>
<text x="42.800000000000004" y="641.6" fill="#c8c8c8" font-size="11" font-weight="350" font-family='"Liberation Sans", "Noto Sans CJK SC", sans-serif ' textLength="28.6" lengthAdjust="spacingAndGlyphs">指标B</text>
<line x1="103.2" y1="629.5" x2="103.2" y2="644.5" stroke="#800000" stroke-width="1.2"/>
<text x="78.60000000000001" y="641.6" fill="#c8c8c8" font-size="11" font-weight="350" font-family='"Liberation Sans", "Noto Sans CJK SC", sans-serif ' textLength="21.1" lengthAdjust="spacingAndGlyphs">窗口</text>
<line x1="125" y1="629.5" x2="125" y2="644.5" stroke="#800000" stroke-width="1.2"/>
<text x="107.4" y="640.9" fill="#c8c8c8" font-size="11" font-family='"Liberation Sans", "Noto Sans CJK SC", sans-serif' textLength="15.1" lengthAdjust="spacingAndGlyphs">MA</text>
<line x1="152.6" y1="629.5" x2="152.6" y2="644.5" stroke="#800000" stroke-width="1.2"/>
<text x="128.9" y="640.9" fill="#00c8c8" font-size="11" font-family='"Liberation Sans", "Noto Sans CJK SC", sans-serif' textLength="20.0" lengthAdjust="spacingAndGlyphs">MA2</text>
<line x1="194.4" y1="629.5" x2="194.4" y2="644.5" stroke="#800000" stroke-width="1.2"/>
<text x="156.5" y="640.9" fill="#c8c8c8" font-size="11" font-family='"Liberation Sans", "Noto Sans CJK SC", sans-serif' textLength="35.0" lengthAdjust="spacingAndGlyphs">EXPMA</text>
<line x1="228.7" y1="629.5" x2="228.7" y2="644.5" stroke="#800000" stroke-width="1.2"/>
<text x="198.1" y="640.9" fill="#c8c8c8" font-size="11" font-family='"Liberation Sans", "Noto Sans CJK SC", sans-serif' textLength="27.4" lengthAdjust="spacingAndGlyphs">SQJZ</text>
<line x1="248.2" y1="629.5" x2="248.2" y2="644.5" stroke="#800000" stroke-width="1.2"/>
<text x="231.2" y="640.9" fill="#c8c8c8" font-size="11" font-family='"Liberation Sans", "Noto Sans CJK SC", sans-serif' textLength="14.7" lengthAdjust="spacingAndGlyphs">XT</text>
<line x1="299.7" y1="629.5" x2="299.7" y2="644.5" stroke="#800000" stroke-width="1.2"/>
<text x="251.5" y="640.9" fill="#c8c8c8" font-size="11" font-family='"Liberation Sans", "Noto Sans CJK SC", sans-serif' textLength="44.6" lengthAdjust="spacingAndGlyphs">BBIBOLL</text>
<line x1="337.3" y1="629.5" x2="337.3" y2="644.5" stroke="#800000" stroke-width="1.2"/>
<text x="303.5" y="640.9" fill="#c8c8c8" font-size="11" font-family='"Liberation Sans", "Noto Sans CJK SC", sans-serif' textLength="30.8" lengthAdjust="spacingAndGlyphs">GMMA</text>
<line x1="365.5" y1="629.5" x2="365.5" y2="644.5" stroke="#800000" stroke-width="1.2"/>
<text x="340.7" y="640.9" fill="#c8c8c8" font-size="11" font-family='"Liberation Sans", "Noto Sans CJK SC", sans-serif' textLength="22.5" lengthAdjust="spacingAndGlyphs">DKX</text>
<line x1="393.7" y1="629.5" x2="393.7" y2="644.5" stroke="#800000" stroke-width="1.2"/>
<text x="369.8" y="640.9" fill="#c8c8c8" font-size="11" font-family='"Liberation Sans", "Noto Sans CJK SC", sans-serif' textLength="21.9" lengthAdjust="spacingAndGlyphs">CYX</text>
<line x1="426.1" y1="629.5" x2="426.1" y2="644.5" stroke="#800000" stroke-width="1.2"/>
<text x="397.4" y="640.9" fill="#c8c8c8" font-size="11" font-family='"Liberation Sans", "Noto Sans CJK SC", sans-serif' textLength="26.1" lengthAdjust="spacingAndGlyphs">CFJT</text>
<line x1="462.7" y1="629.5" x2="462.7" y2="644.5" stroke="#800000" stroke-width="1.2"/>
<text x="429.8" y="640.9" fill="#c8c8c8" font-size="11" font-family='"Liberation Sans", "Noto Sans CJK SC", sans-serif' textLength="29.0" lengthAdjust="spacingAndGlyphs">WAVE</text>
<line x1="491.6" y1="629.5" x2="491.6" y2="644.5" stroke="#800000" stroke-width="1.2"/>
<text x="465.7" y="641.6" fill="#c8c8c8" font-size="11" font-weight="350" font-family='"Liberation Sans", "Noto Sans CJK SC", sans-serif ' textLength="22.2" lengthAdjust="spacingAndGlyphs">更多</text>
<line x1="781.4" y1="629.5" x2="781.4" y2="644.5" stroke="#800000" stroke-width="1"/>
<text x="800.4" y="641.3" fill="#c8c8c8" font-size="12" text-anchor="middle" font-weight="350" font-family='"Liberation Sans", "Noto Sans CJK SC", sans-serif '>模 板</text>
<line x1="841" y1="629.5" x2="841" y2="644.5" stroke="#800000" stroke-width="1"/>
<text x="830.2" y="641.3" fill="#c8c8c8" font-size="12" text-anchor="middle" font-family='"Liberation Sans", "Noto Sans CJK SC", sans-serif'>+</text>
<text x="852" y="641.3" fill="#c8c8c8" font-size="12" text-anchor="middle" font-family='"Liberation Sans", "Noto Sans CJK SC", sans-serif'>−</text>
<line x1="36.3" y1="644.5" x2="36.3" y2="649" stroke="#800000" stroke-width="1"/>
<line x1="86" y1="644.5" x2="86" y2="649" stroke="#800000" stroke-width="1"/>
<text x="5" y="658" fill="#c8c8c8" font-size="12" font-weight="350" font-family='"Liberation Sans", "Noto Sans CJK SC", sans-serif '>位置</text>
<text x="42" y="658" fill="#c8c8c8" font-size="12" font-weight="350" font-family='"Liberation Sans", "Noto Sans CJK SC", sans-serif '>关联板块</text>
<text x="787" y="658" fill="#c8c8c8" font-size="11" font-weight="350" font-family='"Liberation Sans", "Noto Sans CJK SC", sans-serif '>基于板块增删指</text>
<line x1="864" y1="28.5" x2="1080" y2="28.5" stroke="#800000" stroke-width="1.2"/>
<text x="868.6" y="20" fill="#ff4848" font-size="14" font-family='"Liberation Sans", "Noto Sans CJK SC", sans-serif' textLength="8.4" lengthAdjust="spacingAndGlyphs">G</text>
<rect x="884.00" y="10.90" width="7.00" height="1.30" fill="#e04848"/>
<rect x="884.00" y="14.20" width="7.00" height="1.30" fill="#909090"/>
<rect x="884.00" y="17.60" width="7.00" height="1.30" fill="#00c000"/>
<text x="896.7" y="19.5" fill="#e8e800" font-size="13" font-weight="bold" font-family='"Liberation Sans", "Noto Sans CJK SC", sans-serif' textLength="40.3" lengthAdjust="spacingAndGlyphs">399001</text>
<text x="942.5" y="19.8" fill="#00b8c8" font-size="14" font-weight="350" font-family='"Liberation Sans", "Noto Sans CJK SC", sans-serif '>深证成指</text>
<text x="1053.7" y="20" fill="#ff5050" font-size="11" font-weight="bold" font-family='"Liberation Sans", "Noto Sans CJK SC", sans-serif' textLength="11.2" lengthAdjust="spacingAndGlyphs">SG</text>
<text x="1065.3" y="20.8" fill="#d8d8d8" font-size="11.5" font-family='"Liberation Sans", "Noto Sans CJK SC", sans-serif'>1</text>
<text x="866.6" y="43.2" fill="#c8c8c8" font-size="14" font-weight="350" font-family='"Liberation Sans", "Noto Sans CJK SC", sans-serif '>最新指数</text>
<text x="1075" y="41.800000000000004" fill="#00c400" font-size="12" text-anchor="end" font-weight="bold" letter-spacing="0.5" font-family='"Liberation Sans", "Noto Sans CJK SC", sans-serif'>8801.62</text>
<text x="866.6" y="60.300000000000004" fill="#c8c8c8" font-size="14" font-weight="350" font-family='"Liberation Sans", "Noto Sans CJK SC", sans-serif '>今日开盘</text>
<text x="1075" y="58.900000000000006" fill="#00c400" font-size="12" text-anchor="end" font-weight="bold" letter-spacing="0.5" font-family='"Liberation Sans", "Noto Sans CJK SC", sans-serif'>8825.47</text>
<text x="866.6" y="77.4" fill="#c8c8c8" font-size="14" font-weight="350" font-family='"Liberation Sans", "Noto Sans CJK SC", sans-serif '>昨日收盘</text>
<text x="1075" y="76.0" fill="#e8e8e8" font-size="12" text-anchor="end" font-weight="bold" letter-spacing="0.5" font-family='"Liberation Sans", "Noto Sans CJK SC", sans-serif'>8854.08</text>
<text x="866.6" y="94.5" fill="#c8c8c8" font-size="14" font-weight="350" font-family='"Liberation Sans", "Noto Sans CJK SC", sans-serif '>指数涨跌</text>
<text x="1075" y="93.1" fill="#00c400" font-size="12" text-anchor="end" font-weight="bold" letter-spacing="0.5" font-family='"Liberation Sans", "Noto Sans CJK SC", sans-serif'>-52.46</text>
<text x="866.6" y="111.60000000000001" fill="#c8c8c8" font-size="14" font-weight="350" font-family='"Liberation Sans", "Noto Sans CJK SC", sans-serif '>指数涨幅</text>
<text x="1075" y="110.2" fill="#00c400" font-size="12" text-anchor="end" font-weight="bold" letter-spacing="0.5" font-family='"Liberation Sans", "Noto Sans CJK SC", sans-serif'>-0.59%</text>
<text x="866.6" y="128.7" fill="#c8c8c8" font-size="14" font-weight="350" font-family='"Liberation Sans", "Noto Sans CJK SC", sans-serif '>总成交额</text>
<text x="1075" y="127.29999999999998" fill="#d8d800" font-size="12" text-anchor="end" font-weight="bold" letter-spacing="0.5" font-family='"Liberation Sans", "Noto Sans CJK SC", sans-serif'>3334.42<tspan font-weight="350" font-family='"Noto Sans CJK SC",sans-serif' font-size="14">亿</tspan></text>
<text x="866.6" y="145.8" fill="#c8c8c8" font-size="14" font-weight="350" font-family='"Liberation Sans", "Noto Sans CJK SC", sans-serif '>总成交量</text>
<text x="1075" y="144.4" fill="#d8d800" font-size="12" text-anchor="end" font-weight="bold" letter-spacing="0.5" font-family='"Liberation Sans", "Noto Sans CJK SC", sans-serif'>33209.4<tspan font-weight="350" font-family='"Noto Sans CJK SC",sans-serif' font-size="14">万</tspan></text>
<text x="866.6" y="162.90000000000003" fill="#c8c8c8" font-size="14" font-weight="350" font-family='"Liberation Sans", "Noto Sans CJK SC", sans-serif '>指数量比</text>
<text x="1075" y="161.50000000000003" fill="#00c400" font-size="12" text-anchor="end" font-weight="bold" letter-spacing="0.5" font-family='"Liberation Sans", "Noto Sans CJK SC", sans-serif'>0.88</text>
<text x="866.6" y="180.0" fill="#c8c8c8" font-size="14" font-weight="350" font-family='"Liberation Sans", "Noto Sans CJK SC", sans-serif '>深证换手</text>
<text x="1075" y="178.6" fill="#e8e8e8" font-size="12" text-anchor="end" font-weight="bold" letter-spacing="0.5" font-family='"Liberation Sans", "Noto Sans CJK SC", sans-serif'>1.44%</text>
<line x1="864" y1="183.3" x2="1080" y2="183.3" stroke="#800000" stroke-width="1.2"/>
<text x="866.6" y="196.6" fill="#c8c8c8" font-size="14" font-weight="350" letter-spacing="-0.2" font-family='"Liberation Sans", "Noto Sans CJK SC", sans-serif '>Ａ股 涨停</text>
<text x="1075" y="196.1" fill="#ff4242" font-size="12" text-anchor="end" font-weight="bold" letter-spacing="0.5" font-family='"Liberation Sans", "Noto Sans CJK SC", sans-serif'>47</text>
<rect x="948.40" y="186.80" width="1.50" height="9.80" fill="#a02828"/>
<text x="866.6" y="213.54999999999998" fill="#c8c8c8" font-size="14" font-weight="350" letter-spacing="-0.4" font-family='"Liberation Sans", "Noto Sans CJK SC", sans-serif '>涨幅</text>
<text x="899.2" y="213.04999999999998" fill="#c8c8c8" font-size="12" font-family='"Liberation Sans", "Noto Sans CJK SC", sans-serif'>&gt;</text>
<text x="909.8" y="213.04999999999998" fill="#c8c8c8" font-size="12" font-weight="bold" font-family='"Liberation Sans", "Noto Sans CJK SC", sans-serif' textLength="16.5" lengthAdjust="spacingAndGlyphs">7%</text>
<text x="1075" y="213.04999999999998" fill="#ff4242" font-size="12" text-anchor="end" font-weight="bold" letter-spacing="0.5" font-family='"Liberation Sans", "Noto Sans CJK SC", sans-serif'>57</text>
<rect x="948.40" y="203.75" width="1.50" height="9.80" fill="#a02828"/>
<text x="866.6" y="230.5" fill="#c8c8c8" font-size="14" font-weight="350" letter-spacing="-0.4" font-family='"Liberation Sans", "Noto Sans CJK SC", sans-serif '>涨幅</text>
<text x="898.5" y="230.0" fill="#c8c8c8" font-size="12" font-weight="bold" font-family='"Liberation Sans", "Noto Sans CJK SC", sans-serif' textLength="28" lengthAdjust="spacingAndGlyphs">5-7%</text>
<text x="1075" y="230.0" fill="#ff4242" font-size="12" text-anchor="end" font-weight="bold" letter-spacing="0.5" font-family='"Liberation Sans", "Noto Sans CJK SC", sans-serif'>53</text>
<rect x="948.40" y="220.70" width="1.50" height="9.80" fill="#a02828"/>
<text x="866.6" y="247.45" fill="#c8c8c8" font-size="14" font-weight="350" letter-spacing="-0.4" font-family='"Liberation Sans", "Noto Sans CJK SC", sans-serif '>涨幅</text>
<text x="898.5" y="246.95" fill="#c8c8c8" font-size="12" font-weight="bold" font-family='"Liberation Sans", "Noto Sans CJK SC", sans-serif' textLength="28" lengthAdjust="spacingAndGlyphs">3-5%</text>
<text x="1075" y="246.95" fill="#ff4242" font-size="12" text-anchor="end" font-weight="bold" letter-spacing="0.5" font-family='"Liberation Sans", "Noto Sans CJK SC", sans-serif'>102</text>
<rect x="948.40" y="237.65" width="2.80" height="9.80" fill="#ff4242"/>
<text x="866.6" y="264.4" fill="#c8c8c8" font-size="14" font-weight="350" letter-spacing="-0.4" font-family='"Liberation Sans", "Noto Sans CJK SC", sans-serif '>涨幅</text>
<text x="898.5" y="263.9" fill="#c8c8c8" font-size="12" font-weight="bold" font-family='"Liberation Sans", "Noto Sans CJK SC", sans-serif' textLength="28" lengthAdjust="spacingAndGlyphs">0-3%</text>
<text x="1075" y="263.9" fill="#ff4242" font-size="12" text-anchor="end" font-weight="bold" letter-spacing="0.5" font-family='"Liberation Sans", "Noto Sans CJK SC", sans-serif'>678</text>
<rect x="948.40" y="254.60" width="15.40" height="9.80" fill="#ff4242"/>
<line x1="864" y1="269.3" x2="1080" y2="269.3" stroke="#800000" stroke-width="1.2"/>
<text x="866.6" y="283.6" fill="#c8c8c8" font-size="14" font-weight="350" letter-spacing="-0.4" font-family='"Liberation Sans", "Noto Sans CJK SC", sans-serif '>跌幅</text>
<text x="898.5" y="283.1" fill="#c8c8c8" font-size="12" font-weight="bold" font-family='"Liberation Sans", "Noto Sans CJK SC", sans-serif' textLength="28" lengthAdjust="spacingAndGlyphs">0-3%</text>
<text x="1075" y="283.1" fill="#00c400" font-size="12" text-anchor="end" font-weight="bold" letter-spacing="0.5" font-family='"Liberation Sans", "Noto Sans CJK SC", sans-serif'>3341</text>
<rect x="948.40" y="273.80" width="75.20" height="9.80" fill="#00d000"/>
<text x="866.6" y="300.55" fill="#c8c8c8" font-size="14" font-weight="350" letter-spacing="-0.4" font-family='"Liberation Sans", "Noto Sans CJK SC", sans-serif '>跌幅</text>
<text x="898.5" y="300.05" fill="#c8c8c8" font-size="12" font-weight="bold" font-family='"Liberation Sans", "Noto Sans CJK SC", sans-serif' textLength="28" lengthAdjust="spacingAndGlyphs">3-5%</text>
<text x="1075" y="300.05" fill="#00c400" font-size="12" text-anchor="end" font-weight="bold" letter-spacing="0.5" font-family='"Liberation Sans", "Noto Sans CJK SC", sans-serif'>876</text>
<rect x="948.40" y="290.75" width="19.60" height="9.80" fill="#00d000"/>
<text x="866.6" y="317.5" fill="#c8c8c8" font-size="14" font-weight="350" letter-spacing="-0.4" font-family='"Liberation Sans", "Noto Sans CJK SC", sans-serif '>跌幅</text>
<text x="898.5" y="317.0" fill="#c8c8c8" font-size="12" font-weight="bold" font-family='"Liberation Sans", "Noto Sans CJK SC", sans-serif' textLength="28" lengthAdjust="spacingAndGlyphs">5-7%</text>
<text x="1075" y="317.0" fill="#00c400" font-size="12" text-anchor="end" font-weight="bold" letter-spacing="0.5" font-family='"Liberation Sans", "Noto Sans CJK SC", sans-serif'>104</text>
<rect x="948.40" y="307.70" width="2.80" height="9.80" fill="#00d000"/>
<text x="866.6" y="334.45000000000005" fill="#c8c8c8" font-size="14" font-weight="350" letter-spacing="-0.4" font-family='"Liberation Sans", "Noto Sans CJK SC", sans-serif '>跌幅</text>
<text x="899.2" y="333.95000000000005" fill="#c8c8c8" font-size="12" font-family='"Liberation Sans", "Noto Sans CJK SC", sans-serif'>&gt;</text>
<text x="909.8" y="333.95000000000005" fill="#c8c8c8" font-size="12" font-weight="bold" font-family='"Liberation Sans", "Noto Sans CJK SC", sans-serif' textLength="16.5" lengthAdjust="spacingAndGlyphs">7%</text>
<text x="1075" y="333.95000000000005" fill="#00c400" font-size="12" text-anchor="end" font-weight="bold" letter-spacing="0.5" font-family='"Liberation Sans", "Noto Sans CJK SC", sans-serif'>46</text>
<rect x="948.40" y="324.65" width="1.50" height="9.80" fill="#007a00"/>
<text x="866.6" y="351.40000000000003" fill="#c8c8c8" font-size="14" font-weight="350" letter-spacing="-0.2" font-family='"Liberation Sans", "Noto Sans CJK SC", sans-serif '>Ａ股 跌停</text>
<text x="1075" y="350.90000000000003" fill="#00c400" font-size="12" text-anchor="end" font-weight="bold" letter-spacing="0.5" font-family='"Liberation Sans", "Noto Sans CJK SC", sans-serif'>13</text>
<rect x="948.40" y="341.60" width="1.50" height="9.80" fill="#007a00"/>
<line x1="864" y1="357.6" x2="1080" y2="357.6" stroke="#800000" stroke-width="1.2"/>
<text x="866.1" y="371.4" fill="#e8e8e8" font-size="12" font-weight="bold" letter-spacing="0.1" font-family='"Liberation Sans", "Noto Sans CJK SC", sans-serif'>14:56</text>
<text x="940.3" y="371.4" fill="#00c400" font-size="12" font-weight="bold" letter-spacing="0.5" font-family='"Liberation Sans", "Noto Sans CJK SC", sans-serif'>8802.05</text>
<text x="1075" y="371.4" fill="#d8d800" font-size="12" text-anchor="end" font-weight="bold" letter-spacing="0.3" font-family='"Liberation Sans", "Noto Sans CJK SC", sans-serif'>1.23<tspan font-weight="350" font-family='"Noto Sans CJK SC",sans-serif' font-size="14">亿</tspan></text>
<text x="866.1" y="387.46" fill="#e8e8e8" font-size="12" font-weight="bold" letter-spacing="0.1" font-family='"Liberation Sans", "Noto Sans CJK SC", sans-serif'>14:56</text>
<text x="940.3" y="387.46" fill="#00c400" font-size="12" font-weight="bold" letter-spacing="0.5" font-family='"Liberation Sans", "Noto Sans CJK SC", sans-serif'>8802.90</text>
<text x="1075" y="387.46" fill="#d8d800" font-size="12" text-anchor="end" font-weight="bold" letter-spacing="0.3" font-family='"Liberation Sans", "Noto Sans CJK SC", sans-serif'>1.36<tspan font-weight="350" font-family='"Noto Sans CJK SC",sans-serif' font-size="14">亿</tspan></text>
<text x="866.1" y="403.52" fill="#e8e8e8" font-size="12" font-weight="bold" letter-spacing="0.1" font-family='"Liberation Sans", "Noto Sans CJK SC", sans-serif'>14:56</text>
<text x="940.3" y="403.52" fill="#00c400" font-size="12" font-weight="bold" letter-spacing="0.5" font-family='"Liberation Sans", "Noto Sans CJK SC", sans-serif'>8802.15</text>
<text x="1075" y="403.52" fill="#d8d800" font-size="12" text-anchor="end" font-weight="bold" letter-spacing="0.3" font-family='"Liberation Sans", "Noto Sans CJK SC", sans-serif'>1.22<tspan font-weight="350" font-family='"Noto Sans CJK SC",sans-serif' font-size="14">亿</tspan></text>
<text x="866.1" y="419.58" fill="#e8e8e8" font-size="12" font-weight="bold" letter-spacing="0.1" font-family='"Liberation Sans", "Noto Sans CJK SC", sans-serif'>14:56</text>
<text x="940.3" y="419.58" fill="#00c400" font-size="12" font-weight="bold" letter-spacing="0.5" font-family='"Liberation Sans", "Noto Sans CJK SC", sans-serif'>8802.59</text>
<text x="1075" y="419.58" fill="#d8d800" font-size="12" text-anchor="end" font-weight="bold" letter-spacing="0.3" font-family='"Liberation Sans", "Noto Sans CJK SC", sans-serif'>1.33<tspan font-weight="350" font-family='"Noto Sans CJK SC",sans-serif' font-size="14">亿</tspan></text>
<text x="866.1" y="435.64" fill="#e8e8e8" font-size="12" font-weight="bold" letter-spacing="0.1" font-family='"Liberation Sans", "Noto Sans CJK SC", sans-serif'>14:56</text>
<text x="940.3" y="435.64" fill="#00c400" font-size="12" font-weight="bold" letter-spacing="0.5" font-family='"Liberation Sans", "Noto Sans CJK SC", sans-serif'>8801.98</text>
<text x="1075" y="435.64" fill="#d8d800" font-size="12" text-anchor="end" font-weight="bold" letter-spacing="0.3" font-family='"Liberation Sans", "Noto Sans CJK SC", sans-serif'>1.29<tspan font-weight="350" font-family='"Noto Sans CJK SC",sans-serif' font-size="14">亿</tspan></text>
<text x="866.1" y="451.7" fill="#e8e8e8" font-size="12" font-weight="bold" letter-spacing="0.1" font-family='"Liberation Sans", "Noto Sans CJK SC", sans-serif'>14:56</text>
<text x="940.3" y="451.7" fill="#00c400" font-size="12" font-weight="bold" letter-spacing="0.5" font-family='"Liberation Sans", "Noto Sans CJK SC", sans-serif'>8801.78</text>
<text x="1075" y="451.7" fill="#d8d800" font-size="12" text-anchor="end" font-weight="bold" letter-spacing="0.3" font-family='"Liberation Sans", "Noto Sans CJK SC", sans-serif'>1.18<tspan font-weight="350" font-family='"Noto Sans CJK SC",sans-serif' font-size="14">亿</tspan></text>
<text x="866.1" y="467.76" fill="#e8e8e8" font-size="12" font-weight="bold" letter-spacing="0.1" font-family='"Liberation Sans", "Noto Sans CJK SC", sans-serif'>14:56</text>
<text x="940.3" y="467.76" fill="#00c400" font-size="12" font-weight="bold" letter-spacing="0.5" font-family='"Liberation Sans", "Noto Sans CJK SC", sans-serif'>8802.07</text>
<text x="1075" y="467.76" fill="#d8d800" font-size="12" text-anchor="end" font-weight="bold" letter-spacing="0.3" font-family='"Liberation Sans", "Noto Sans CJK SC", sans-serif'>1.21<tspan font-weight="350" font-family='"Noto Sans CJK SC",sans-serif' font-size="14">亿</tspan></text>
<text x="866.1" y="483.81999999999994" fill="#e8e8e8" font-size="12" font-weight="bold" letter-spacing="0.1" font-family='"Liberation Sans", "Noto Sans CJK SC", sans-serif'>14:56</text>
<text x="940.3" y="483.81999999999994" fill="#00c400" font-size="12" font-weight="bold" letter-spacing="0.5" font-family='"Liberation Sans", "Noto Sans CJK SC", sans-serif'>8802.59</text>
<text x="1075" y="483.81999999999994" fill="#d8d800" font-size="12" text-anchor="end" font-weight="bold" letter-spacing="0.3" font-family='"Liberation Sans", "Noto Sans CJK SC", sans-serif'>1.15<tspan font-weight="350" font-family='"Noto Sans CJK SC",sans-serif' font-size="14">亿</tspan></text>
<text x="866.1" y="499.88" fill="#e8e8e8" font-size="12" font-weight="bold" letter-spacing="0.1" font-family='"Liberation Sans", "Noto Sans CJK SC", sans-serif'>14:56</text>
<text x="940.3" y="499.88" fill="#00c400" font-size="12" font-weight="bold" letter-spacing="0.5" font-family='"Liberation Sans", "Noto Sans CJK SC", sans-serif'>8803.60</text>
<text x="1075" y="499.88" fill="#d8d800" font-size="12" text-anchor="end" font-weight="bold" letter-spacing="0.3" font-family='"Liberation Sans", "Noto Sans CJK SC", sans-serif'>1.21<tspan font-weight="350" font-family='"Noto Sans CJK SC",sans-serif' font-size="14">亿</tspan></text>
<text x="866.1" y="515.9399999999999" fill="#e8e8e8" font-size="12" font-weight="bold" letter-spacing="0.1" font-family='"Liberation Sans", "Noto Sans CJK SC", sans-serif'>14:56</text>
<text x="940.3" y="515.9399999999999" fill="#00c400" font-size="12" font-weight="bold" letter-spacing="0.5" font-family='"Liberation Sans", "Noto Sans CJK SC", sans-serif'>8802.82</text>
<text x="1075" y="515.9399999999999" fill="#d8d800" font-size="12" text-anchor="end" font-weight="bold" letter-spacing="0.3" font-family='"Liberation Sans", "Noto Sans CJK SC", sans-serif'>1.20<tspan font-weight="350" font-family='"Noto Sans CJK SC",sans-serif' font-size="14">亿</tspan></text>
<text x="866.1" y="532.0" fill="#e8e8e8" font-size="12" font-weight="bold" letter-spacing="0.1" font-family='"Liberation Sans", "Noto Sans CJK SC", sans-serif'>14:56</text>
<text x="940.3" y="532.0" fill="#00c400" font-size="12" font-weight="bold" letter-spacing="0.5" font-family='"Liberation Sans", "Noto Sans CJK SC", sans-serif'>8804.15</text>
<text x="1075" y="532.0" fill="#d8d800" font-size="12" text-anchor="end" font-weight="bold" letter-spacing="0.3" font-family='"Liberation Sans", "Noto Sans CJK SC", sans-serif'>1.05<tspan font-weight="350" font-family='"Noto Sans CJK SC",sans-serif' font-size="14">亿</tspan></text>
<text x="866.1" y="548.06" fill="#e8e8e8" font-size="12" font-weight="bold" letter-spacing="0.1" font-family='"Liberation Sans", "Noto Sans CJK SC", sans-serif'>14:56</text>
<text x="940.3" y="548.06" fill="#00c400" font-size="12" font-weight="bold" letter-spacing="0.5" font-family='"Liberation Sans", "Noto Sans CJK SC", sans-serif'>8803.98</text>
<text x="1075" y="548.06" fill="#d8d800" font-size="12" text-anchor="end" font-weight="bold" letter-spacing="0.3" font-family='"Liberation Sans", "Noto Sans CJK SC", sans-serif'>1.04<tspan font-weight="350" font-family='"Noto Sans CJK SC",sans-serif' font-size="14">亿</tspan></text>
<text x="866.1" y="564.1199999999999" fill="#e8e8e8" font-size="12" font-weight="bold" letter-spacing="0.1" font-family='"Liberation Sans", "Noto Sans CJK SC", sans-serif'>14:57</text>
<text x="940.3" y="564.1199999999999" fill="#00c400" font-size="12" font-weight="bold" letter-spacing="0.5" font-family='"Liberation Sans", "Noto Sans CJK SC", sans-serif'>8803.65</text>
<text x="1075" y="564.1199999999999" fill="#d8d800" font-size="12" text-anchor="end" font-weight="bold" letter-spacing="0.3" font-family='"Liberation Sans", "Noto Sans CJK SC", sans-serif'>1.16<tspan font-weight="350" font-family='"Noto Sans CJK SC",sans-serif' font-size="14">亿</tspan></text>
<text x="866.1" y="580.18" fill="#e8e8e8" font-size="12" font-weight="bold" letter-spacing="0.1" font-family='"Liberation Sans", "Noto Sans CJK SC", sans-serif'>14:57</text>
<text x="940.3" y="580.18" fill="#00c400" font-size="12" font-weight="bold" letter-spacing="0.5" font-family='"Liberation Sans", "Noto Sans CJK SC", sans-serif'>8803.64</text>
<text x="1075" y="580.18" fill="#d8d800" font-size="12" text-anchor="end" font-weight="bold" letter-spacing="0.3" font-family='"Liberation Sans", "Noto Sans CJK SC", sans-serif'>8801<tspan font-weight="350" font-family='"Noto Sans CJK SC",sans-serif' font-size="14">万</tspan></text>
<text x="866.1" y="596.24" fill="#e8e8e8" font-size="12" font-weight="bold" letter-spacing="0.1" font-family='"Liberation Sans", "Noto Sans CJK SC", sans-serif'>15:00</text>
<text x="940.3" y="596.24" fill="#00c400" font-size="12" font-weight="bold" letter-spacing="0.5" font-family='"Liberation Sans", "Noto Sans CJK SC", sans-serif'>8803.64</text>
<text x="1075" y="596.24" fill="#d8d800" font-size="12" text-anchor="end" font-weight="bold" letter-spacing="0.3" font-family='"Liberation Sans", "Noto Sans CJK SC", sans-serif'>455.0<tspan font-weight="350" font-family='"Noto Sans CJK SC",sans-serif' font-size="14">万</tspan></text>
<text x="866.1" y="612.3" fill="#e8e8e8" font-size="12" font-weight="bold" letter-spacing="0.1" font-family='"Liberation Sans", "Noto Sans CJK SC", sans-serif'>15:00</text>
<text x="940.3" y="612.3" fill="#00c400" font-size="12" font-weight="bold" letter-spacing="0.5" font-family='"Liberation Sans", "Noto Sans CJK SC", sans-serif'>8801.62</text>
<text x="1075" y="612.3" fill="#d8d800" font-size="12" text-anchor="end" font-weight="bold" letter-spacing="0.3" font-family='"Liberation Sans", "Noto Sans CJK SC", sans-serif'>0.000</text>
<text x="866.1" y="628.3599999999999" fill="#e8e8e8" font-size="12" font-weight="bold" letter-spacing="0.1" font-family='"Liberation Sans", "Noto Sans CJK SC", sans-serif'>15:00</text>
<text x="940.3" y="628.3599999999999" fill="#00c400" font-size="12" font-weight="bold" letter-spacing="0.5" font-family='"Liberation Sans", "Noto Sans CJK SC", sans-serif'>8801.62</text>
<text x="1075" y="628.3599999999999" fill="#d8d800" font-size="12" text-anchor="end" font-weight="bold" letter-spacing="0.3" font-family='"Liberation Sans", "Noto Sans CJK SC", sans-serif'>44.3<tspan font-weight="350" font-family='"Noto Sans CJK SC",sans-serif' font-size="14">亿</tspan></text>
<line x1="864" y1="644.7" x2="1080" y2="644.7" stroke="#800000" stroke-width="1.2"/>
<line x1="890.2" y1="644.7" x2="890.2" y2="649" stroke="#800000" stroke-width="1"/>
<line x1="917.1" y1="644.7" x2="917.1" y2="649" stroke="#800000" stroke-width="1"/>
<line x1="943.7" y1="644.7" x2="943.7" y2="649" stroke="#800000" stroke-width="1"/>
<line x1="970.2" y1="644.7" x2="970.2" y2="649" stroke="#800000" stroke-width="1"/>
<line x1="997.1" y1="644.7" x2="997.1" y2="649" stroke="#800000" stroke-width="1"/>
<line x1="1024.3" y1="644.7" x2="1024.3" y2="649" stroke="#800000" stroke-width="1"/>
<line x1="1050.8" y1="644.7" x2="1050.8" y2="649" stroke="#800000" stroke-width="1"/>
<text x="877.0" y="658.3" fill="#00c8c8" font-size="12" text-anchor="middle" font-weight="350" font-family='"Liberation Sans", "Noto Sans CJK SC", sans-serif '>笔</text>
<text x="903.7" y="658.3" fill="#c8c8c8" font-size="12" text-anchor="middle" font-weight="350" font-family='"Liberation Sans", "Noto Sans CJK SC", sans-serif '>分</text>
<text x="930.4" y="658.3" fill="#c8c8c8" font-size="12" text-anchor="middle" font-weight="350" font-family='"Liberation Sans", "Noto Sans CJK SC", sans-serif '>价</text>
<text x="957.1" y="658.3" fill="#c8c8c8" font-size="12" text-anchor="middle" font-weight="350" font-family='"Liberation Sans", "Noto Sans CJK SC", sans-serif '>盘</text>
<text x="983.8" y="658.3" fill="#c8c8c8" font-size="12" text-anchor="middle" font-weight="350" font-family='"Liberation Sans", "Noto Sans CJK SC", sans-serif '>势</text>
<text x="1010.5" y="658.3" fill="#c8c8c8" font-size="12" text-anchor="middle" font-weight="350" font-family='"Liberation Sans", "Noto Sans CJK SC", sans-serif '>指</text>
<text x="1037.2" y="658.3" fill="#c8c8c8" font-size="12" text-anchor="middle" font-weight="350" font-family='"Liberation Sans", "Noto Sans CJK SC", sans-serif '>联</text>
<text x="1063.9" y="658.3" fill="#c8c8c8" font-size="12" text-anchor="middle" font-weight="350" font-family='"Liberation Sans", "Noto Sans CJK SC", sans-serif '>值</text>
<rect x="1079.00" y="0.00" width="1.00" height="649.00" fill="#c8c8c8"/>
</svg>
</body></html>
